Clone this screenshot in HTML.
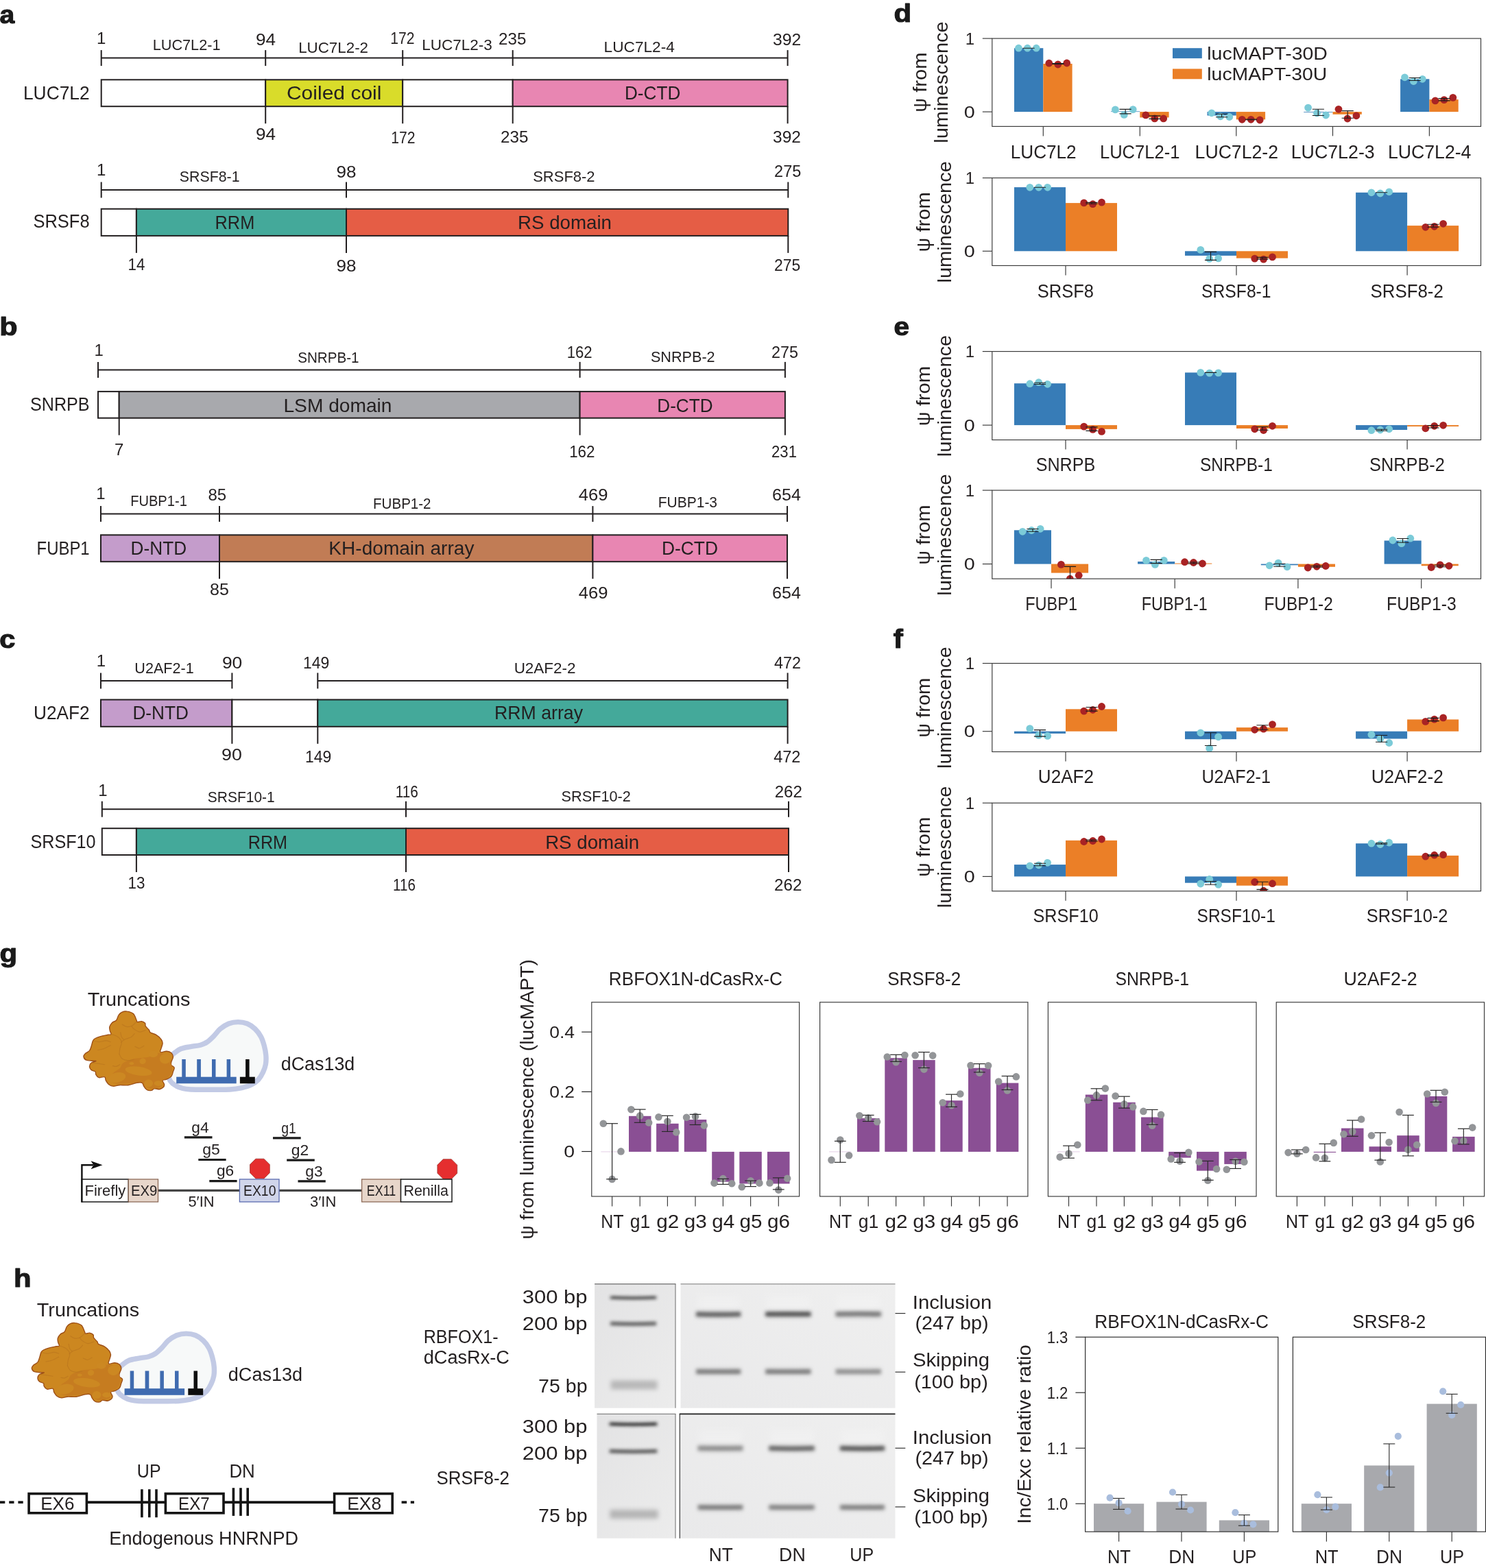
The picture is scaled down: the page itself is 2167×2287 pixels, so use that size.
<!DOCTYPE html>
<html lang="en">
<head>
<meta charset="utf-8">
<title>Figure: truncation mapping of splicing regulators</title>
<style>
html,body{margin:0;padding:0;background:#fff;}
body{width:2167px;height:2287px;overflow:hidden;}
svg{display:block;font-family:"Liberation Sans", sans-serif;fill:#231f20;}
svg text{white-space:pre;}
</style>
</head>
<body>
<svg width="2167" height="2287" viewBox="0 0 2167 2287">
<rect x="0" y="0" width="2167" height="2287" fill="#ffffff"/>
<text x="-0.4" y="33.7" font-size="36.5" textLength="21.7" lengthAdjust="spacingAndGlyphs" font-weight="bold" fill="#1a1a1a" stroke="#1a1a1a" stroke-width="1.1" stroke-linejoin="round">a</text>
<text x="-0.7" y="488.9" font-size="36.5" textLength="26.3" lengthAdjust="spacingAndGlyphs" font-weight="bold" fill="#1a1a1a" stroke="#1a1a1a" stroke-width="1.1" stroke-linejoin="round">b</text>
<text x="-0.7" y="944.8" font-size="36.5" textLength="23.1" lengthAdjust="spacingAndGlyphs" font-weight="bold" fill="#1a1a1a" stroke="#1a1a1a" stroke-width="1.1" stroke-linejoin="round">c</text>
<line x1="147.7" y1="84.6" x2="1148.6" y2="84.6" stroke="#231f20" stroke-width="2.0"/>
<line x1="147.7" y1="73.1" x2="147.7" y2="96.1" stroke="#231f20" stroke-width="2.0"/>
<line x1="387.2" y1="73.1" x2="387.2" y2="96.1" stroke="#231f20" stroke-width="2.0"/>
<line x1="587.2" y1="73.1" x2="587.2" y2="96.1" stroke="#231f20" stroke-width="2.0"/>
<line x1="747.7" y1="73.1" x2="747.7" y2="96.1" stroke="#231f20" stroke-width="2.0"/>
<line x1="1148.6" y1="73.1" x2="1148.6" y2="96.1" stroke="#231f20" stroke-width="2.0"/>
<rect x="147.7" y="116.3" width="239.5" height="38.9" fill="#ffffff" stroke="#231f20" stroke-width="2.0"/>
<rect x="387.2" y="116.3" width="200.0" height="38.9" fill="#d9dc2a" stroke="#231f20" stroke-width="2.0"/>
<rect x="587.2" y="116.3" width="160.5" height="38.9" fill="#ffffff" stroke="#231f20" stroke-width="2.0"/>
<rect x="747.7" y="116.3" width="400.9" height="38.9" fill="#e886b2" stroke="#231f20" stroke-width="2.0"/>
<line x1="387.2" y1="155.2" x2="387.2" y2="180.2" stroke="#231f20" stroke-width="2.0"/>
<line x1="587.2" y1="155.2" x2="587.2" y2="180.2" stroke="#231f20" stroke-width="2.0"/>
<line x1="747.7" y1="155.2" x2="747.7" y2="180.2" stroke="#231f20" stroke-width="2.0"/>
<line x1="1148.6" y1="155.2" x2="1148.6" y2="180.2" stroke="#231f20" stroke-width="2.0"/>
<text x="147.7" y="63.5" font-size="24" text-anchor="middle">1</text>
<text x="387.5" y="65.8" font-size="24" text-anchor="middle" textLength="29.0" lengthAdjust="spacingAndGlyphs">94</text>
<text x="586.8" y="63.5" font-size="24" text-anchor="middle" textLength="35.3" lengthAdjust="spacingAndGlyphs">172</text>
<text x="747.2" y="64.8" font-size="24" text-anchor="middle" textLength="40.3" lengthAdjust="spacingAndGlyphs">235</text>
<text x="1147.7" y="65.5" font-size="24" text-anchor="middle" textLength="41.2" lengthAdjust="spacingAndGlyphs">392</text>
<text x="272.1" y="72.7" font-size="22" text-anchor="middle" textLength="98.8" lengthAdjust="spacingAndGlyphs">LUC7L2-1</text>
<text x="486.1" y="77.4" font-size="22" text-anchor="middle" textLength="101.9" lengthAdjust="spacingAndGlyphs">LUC7L2-2</text>
<text x="666.5" y="72.7" font-size="22" text-anchor="middle" textLength="102.7" lengthAdjust="spacingAndGlyphs">LUC7L2-3</text>
<text x="932.2" y="75.7" font-size="22" text-anchor="middle" textLength="103.2" lengthAdjust="spacingAndGlyphs">LUC7L2-4</text>
<text x="387.5" y="204.0" font-size="24" text-anchor="middle" textLength="29.0" lengthAdjust="spacingAndGlyphs">94</text>
<text x="587.8" y="208.8" font-size="24" text-anchor="middle" textLength="35.3" lengthAdjust="spacingAndGlyphs">172</text>
<text x="750.3" y="208.0" font-size="24" text-anchor="middle" textLength="40.4" lengthAdjust="spacingAndGlyphs">235</text>
<text x="1147.5" y="208.0" font-size="24" text-anchor="middle" textLength="40.8" lengthAdjust="spacingAndGlyphs">392</text>
<text x="487.2" y="144.6" font-size="27.6" text-anchor="middle" textLength="138.5" lengthAdjust="spacingAndGlyphs">Coiled coil</text>
<text x="951.6" y="144.6" font-size="27.6" text-anchor="middle" textLength="81.4" lengthAdjust="spacingAndGlyphs">D-CTD</text>
<text x="82.3" y="144.6" font-size="27.6" text-anchor="middle" textLength="96.7" lengthAdjust="spacingAndGlyphs">LUC7L2</text>
<line x1="147.7" y1="277.0" x2="1149.3" y2="277.0" stroke="#231f20" stroke-width="2.0"/>
<line x1="147.7" y1="265.5" x2="147.7" y2="288.5" stroke="#231f20" stroke-width="2.0"/>
<line x1="505.0" y1="265.5" x2="505.0" y2="288.5" stroke="#231f20" stroke-width="2.0"/>
<line x1="1149.3" y1="265.5" x2="1149.3" y2="288.5" stroke="#231f20" stroke-width="2.0"/>
<rect x="147.7" y="304.7" width="51.2" height="39.2" fill="#ffffff" stroke="#231f20" stroke-width="2.0"/>
<rect x="198.9" y="304.7" width="306.1" height="39.2" fill="#44a99a" stroke="#231f20" stroke-width="2.0"/>
<rect x="505.0" y="304.7" width="644.3" height="39.2" fill="#e55d45" stroke="#231f20" stroke-width="2.0"/>
<line x1="198.9" y1="343.9" x2="198.9" y2="368.9" stroke="#231f20" stroke-width="2.0"/>
<line x1="505.0" y1="343.9" x2="505.0" y2="368.9" stroke="#231f20" stroke-width="2.0"/>
<line x1="1149.3" y1="343.9" x2="1149.3" y2="368.9" stroke="#231f20" stroke-width="2.0"/>
<text x="147.7" y="255.9" font-size="24" text-anchor="middle">1</text>
<text x="505.0" y="258.6" font-size="24" text-anchor="middle" textLength="29.0" lengthAdjust="spacingAndGlyphs">98</text>
<text x="1148.7" y="258.3" font-size="24" text-anchor="middle" textLength="39.2" lengthAdjust="spacingAndGlyphs">275</text>
<text x="305.7" y="265.4" font-size="22" text-anchor="middle" textLength="87.7" lengthAdjust="spacingAndGlyphs">SRSF8-1</text>
<text x="822.4" y="265.4" font-size="22" text-anchor="middle" textLength="90.4" lengthAdjust="spacingAndGlyphs">SRSF8-2</text>
<text x="199.0" y="394.0" font-size="24" text-anchor="middle" textLength="24.9" lengthAdjust="spacingAndGlyphs">14</text>
<text x="505.0" y="396.0" font-size="24" text-anchor="middle" textLength="29.0" lengthAdjust="spacingAndGlyphs">98</text>
<text x="1148.2" y="395.0" font-size="24" text-anchor="middle" textLength="38.2" lengthAdjust="spacingAndGlyphs">275</text>
<text x="342.4" y="334.4" font-size="27.6" text-anchor="middle" textLength="57.7" lengthAdjust="spacingAndGlyphs">RRM</text>
<text x="823.5" y="334.4" font-size="27.6" text-anchor="middle" textLength="137.1" lengthAdjust="spacingAndGlyphs">RS domain</text>
<text x="89.5" y="332.0" font-size="27.6" text-anchor="middle" textLength="82.2" lengthAdjust="spacingAndGlyphs">SRSF8</text>
<line x1="143.0" y1="539.4" x2="1144.9" y2="539.4" stroke="#231f20" stroke-width="2.0"/>
<line x1="143.0" y1="527.9" x2="143.0" y2="550.9" stroke="#231f20" stroke-width="2.0"/>
<line x1="845.6" y1="527.9" x2="845.6" y2="550.9" stroke="#231f20" stroke-width="2.0"/>
<line x1="1144.9" y1="527.9" x2="1144.9" y2="550.9" stroke="#231f20" stroke-width="2.0"/>
<rect x="143.0" y="571.1" width="30.7" height="38.6" fill="#ffffff" stroke="#231f20" stroke-width="2.0"/>
<rect x="173.7" y="571.1" width="671.9" height="38.6" fill="#a8a9ad" stroke="#231f20" stroke-width="2.0"/>
<rect x="845.6" y="571.1" width="299.3" height="38.6" fill="#e886b2" stroke="#231f20" stroke-width="2.0"/>
<line x1="173.7" y1="609.7" x2="173.7" y2="634.7" stroke="#231f20" stroke-width="2.0"/>
<line x1="845.6" y1="609.7" x2="845.6" y2="634.7" stroke="#231f20" stroke-width="2.0"/>
<line x1="1144.9" y1="609.7" x2="1144.9" y2="634.7" stroke="#231f20" stroke-width="2.0"/>
<text x="144.3" y="519.0" font-size="24" text-anchor="middle">1</text>
<text x="845.2" y="521.6" font-size="24" text-anchor="middle" textLength="36.9" lengthAdjust="spacingAndGlyphs">162</text>
<text x="1144.4" y="521.6" font-size="24" text-anchor="middle" textLength="39.0" lengthAdjust="spacingAndGlyphs">275</text>
<text x="478.9" y="528.5" font-size="22" text-anchor="middle" textLength="89.4" lengthAdjust="spacingAndGlyphs">SNRPB-1</text>
<text x="995.8" y="527.8" font-size="22" text-anchor="middle" textLength="93.7" lengthAdjust="spacingAndGlyphs">SNRPB-2</text>
<text x="173.7" y="664.0" font-size="24" text-anchor="middle">7</text>
<text x="848.8" y="666.6" font-size="24" text-anchor="middle" textLength="37.3" lengthAdjust="spacingAndGlyphs">162</text>
<text x="1143.5" y="666.6" font-size="24" text-anchor="middle" textLength="36.8" lengthAdjust="spacingAndGlyphs">231</text>
<text x="492.5" y="601.0" font-size="27.6" text-anchor="middle" textLength="158.1" lengthAdjust="spacingAndGlyphs">LSM domain</text>
<text x="998.9" y="601.0" font-size="27.6" text-anchor="middle" textLength="81.2" lengthAdjust="spacingAndGlyphs">D-CTD</text>
<text x="87.3" y="599.0" font-size="27.6" text-anchor="middle" textLength="86.7" lengthAdjust="spacingAndGlyphs">SNRPB</text>
<line x1="147.0" y1="749.6" x2="1148.0" y2="749.6" stroke="#231f20" stroke-width="2.0"/>
<line x1="147.0" y1="738.1" x2="147.0" y2="761.1" stroke="#231f20" stroke-width="2.0"/>
<line x1="320.0" y1="738.1" x2="320.0" y2="761.1" stroke="#231f20" stroke-width="2.0"/>
<line x1="864.4" y1="738.1" x2="864.4" y2="761.1" stroke="#231f20" stroke-width="2.0"/>
<line x1="1148.0" y1="738.1" x2="1148.0" y2="761.1" stroke="#231f20" stroke-width="2.0"/>
<rect x="147.0" y="780.3" width="173.0" height="38.9" fill="#c49ccb" stroke="#231f20" stroke-width="2.0"/>
<rect x="320.0" y="780.3" width="544.4" height="38.9" fill="#c17c55" stroke="#231f20" stroke-width="2.0"/>
<rect x="864.4" y="780.3" width="283.6" height="38.9" fill="#e886b2" stroke="#231f20" stroke-width="2.0"/>
<line x1="320.0" y1="819.2" x2="320.0" y2="844.2" stroke="#231f20" stroke-width="2.0"/>
<line x1="864.4" y1="819.2" x2="864.4" y2="844.2" stroke="#231f20" stroke-width="2.0"/>
<line x1="1148.0" y1="819.2" x2="1148.0" y2="844.2" stroke="#231f20" stroke-width="2.0"/>
<text x="147.0" y="728.0" font-size="24" text-anchor="middle">1</text>
<text x="316.8" y="730.4" font-size="24" text-anchor="middle" textLength="26.7" lengthAdjust="spacingAndGlyphs">85</text>
<text x="865.1" y="729.8" font-size="24" text-anchor="middle" textLength="42.8" lengthAdjust="spacingAndGlyphs">469</text>
<text x="1147.0" y="730.4" font-size="24" text-anchor="middle" textLength="41.8" lengthAdjust="spacingAndGlyphs">654</text>
<text x="231.5" y="737.6" font-size="22" text-anchor="middle" textLength="82.7" lengthAdjust="spacingAndGlyphs">FUBP1-1</text>
<text x="586.3" y="741.7" font-size="22" text-anchor="middle" textLength="84.5" lengthAdjust="spacingAndGlyphs">FUBP1-2</text>
<text x="1002.9" y="740.0" font-size="22" text-anchor="middle" textLength="86.3" lengthAdjust="spacingAndGlyphs">FUBP1-3</text>
<text x="320.0" y="868.3" font-size="24" text-anchor="middle" textLength="27.8" lengthAdjust="spacingAndGlyphs">85</text>
<text x="865.1" y="873.0" font-size="24" text-anchor="middle" textLength="42.8" lengthAdjust="spacingAndGlyphs">469</text>
<text x="1147.0" y="873.0" font-size="24" text-anchor="middle" textLength="41.8" lengthAdjust="spacingAndGlyphs">654</text>
<text x="231.4" y="809.0" font-size="27.6" text-anchor="middle" textLength="81.6" lengthAdjust="spacingAndGlyphs">D-NTD</text>
<text x="585.4" y="809.0" font-size="27.6" text-anchor="middle" textLength="212.1" lengthAdjust="spacingAndGlyphs">KH-domain array</text>
<text x="1006.0" y="809.0" font-size="27.6" text-anchor="middle" textLength="82.1" lengthAdjust="spacingAndGlyphs">D-CTD</text>
<text x="92.1" y="809.0" font-size="27.6" text-anchor="middle" textLength="77.1" lengthAdjust="spacingAndGlyphs">FUBP1</text>
<line x1="147.0" y1="992.9" x2="338.4" y2="992.9" stroke="#231f20" stroke-width="2.0"/>
<line x1="463.3" y1="992.9" x2="1148.6" y2="992.9" stroke="#231f20" stroke-width="2.0"/>
<line x1="147.0" y1="981.4" x2="147.0" y2="1004.4" stroke="#231f20" stroke-width="2.0"/>
<line x1="338.4" y1="981.4" x2="338.4" y2="1004.4" stroke="#231f20" stroke-width="2.0"/>
<line x1="463.3" y1="981.4" x2="463.3" y2="1004.4" stroke="#231f20" stroke-width="2.0"/>
<line x1="1148.6" y1="981.4" x2="1148.6" y2="1004.4" stroke="#231f20" stroke-width="2.0"/>
<rect x="147.0" y="1020.5" width="191.4" height="39.3" fill="#c49ccb" stroke="#231f20" stroke-width="2.0"/>
<rect x="338.4" y="1020.5" width="124.9" height="39.3" fill="#ffffff" stroke="#231f20" stroke-width="2.0"/>
<rect x="463.3" y="1020.5" width="685.3" height="39.3" fill="#44a99a" stroke="#231f20" stroke-width="2.0"/>
<line x1="338.4" y1="1059.8" x2="338.4" y2="1084.8" stroke="#231f20" stroke-width="2.0"/>
<line x1="463.3" y1="1059.8" x2="463.3" y2="1084.8" stroke="#231f20" stroke-width="2.0"/>
<line x1="1148.6" y1="1059.8" x2="1148.6" y2="1084.8" stroke="#231f20" stroke-width="2.0"/>
<text x="147.5" y="972.4" font-size="24" text-anchor="middle">1</text>
<text x="338.6" y="974.8" font-size="24" text-anchor="middle" textLength="29.4" lengthAdjust="spacingAndGlyphs">90</text>
<text x="461.1" y="974.8" font-size="24" text-anchor="middle" textLength="38.3" lengthAdjust="spacingAndGlyphs">149</text>
<text x="1148.4" y="974.8" font-size="24" text-anchor="middle" textLength="39.0" lengthAdjust="spacingAndGlyphs">472</text>
<text x="239.5" y="982.3" font-size="22" text-anchor="middle" textLength="86.3" lengthAdjust="spacingAndGlyphs">U2AF2-1</text>
<text x="794.6" y="981.6" font-size="22" text-anchor="middle" textLength="89.9" lengthAdjust="spacingAndGlyphs">U2AF2-2</text>
<text x="338.0" y="1109.0" font-size="24" text-anchor="middle" textLength="29.8" lengthAdjust="spacingAndGlyphs">90</text>
<text x="464.2" y="1112.0" font-size="24" text-anchor="middle" textLength="38.3" lengthAdjust="spacingAndGlyphs">149</text>
<text x="1147.8" y="1112.0" font-size="24" text-anchor="middle" textLength="39.3" lengthAdjust="spacingAndGlyphs">472</text>
<text x="234.2" y="1048.9" font-size="27.6" text-anchor="middle" textLength="81.6" lengthAdjust="spacingAndGlyphs">D-NTD</text>
<text x="785.5" y="1048.9" font-size="27.6" text-anchor="middle" textLength="129.1" lengthAdjust="spacingAndGlyphs">RRM array</text>
<text x="89.8" y="1048.9" font-size="27.6" text-anchor="middle" textLength="81.7" lengthAdjust="spacingAndGlyphs">U2AF2</text>
<line x1="148.8" y1="1180.2" x2="1150.0" y2="1180.2" stroke="#231f20" stroke-width="2.0"/>
<line x1="148.8" y1="1168.7" x2="148.8" y2="1191.7" stroke="#231f20" stroke-width="2.0"/>
<line x1="592.0" y1="1168.7" x2="592.0" y2="1191.7" stroke="#231f20" stroke-width="2.0"/>
<line x1="1150.0" y1="1168.7" x2="1150.0" y2="1191.7" stroke="#231f20" stroke-width="2.0"/>
<rect x="148.8" y="1208.2" width="50.1" height="38.8" fill="#ffffff" stroke="#231f20" stroke-width="2.0"/>
<rect x="198.9" y="1208.2" width="393.1" height="38.8" fill="#44a99a" stroke="#231f20" stroke-width="2.0"/>
<rect x="592.0" y="1208.2" width="558.0" height="38.8" fill="#e55d45" stroke="#231f20" stroke-width="2.0"/>
<line x1="198.9" y1="1247.0" x2="198.9" y2="1272.0" stroke="#231f20" stroke-width="2.0"/>
<line x1="592.0" y1="1247.0" x2="592.0" y2="1272.0" stroke="#231f20" stroke-width="2.0"/>
<line x1="1150.0" y1="1247.0" x2="1150.0" y2="1272.0" stroke="#231f20" stroke-width="2.0"/>
<text x="150.0" y="1160.8" font-size="24" text-anchor="middle">1</text>
<text x="593.3" y="1162.5" font-size="24" text-anchor="middle" textLength="33.2" lengthAdjust="spacingAndGlyphs">116</text>
<text x="1149.8" y="1162.5" font-size="24" text-anchor="middle" textLength="40.3" lengthAdjust="spacingAndGlyphs">262</text>
<text x="351.8" y="1170.0" font-size="22" text-anchor="middle" textLength="97.9" lengthAdjust="spacingAndGlyphs">SRSF10-1</text>
<text x="869.2" y="1169.3" font-size="22" text-anchor="middle" textLength="101.3" lengthAdjust="spacingAndGlyphs">SRSF10-2</text>
<text x="199.0" y="1295.5" font-size="24" text-anchor="middle" textLength="24.9" lengthAdjust="spacingAndGlyphs">13</text>
<text x="589.5" y="1299.0" font-size="24" text-anchor="middle" textLength="32.8" lengthAdjust="spacingAndGlyphs">116</text>
<text x="1149.2" y="1299.0" font-size="24" text-anchor="middle" textLength="40.3" lengthAdjust="spacingAndGlyphs">262</text>
<text x="390.4" y="1238.2" font-size="27.6" text-anchor="middle" textLength="57.4" lengthAdjust="spacingAndGlyphs">RRM</text>
<text x="863.6" y="1238.2" font-size="27.6" text-anchor="middle" textLength="136.9" lengthAdjust="spacingAndGlyphs">RS domain</text>
<text x="92.0" y="1236.8" font-size="27.6" text-anchor="middle" textLength="95.2" lengthAdjust="spacingAndGlyphs">SRSF10</text>
<text x="1303.5" y="32.3" font-size="36.5" textLength="25.6" lengthAdjust="spacingAndGlyphs" font-weight="bold" fill="#1a1a1a" stroke="#1a1a1a" stroke-width="1.1" stroke-linejoin="round">d</text>
<text x="1303.5" y="489.3" font-size="36.5" textLength="22.5" lengthAdjust="spacingAndGlyphs" font-weight="bold" fill="#1a1a1a" stroke="#1a1a1a" stroke-width="1.1" stroke-linejoin="round">e</text>
<text x="1302.8" y="944.7" font-size="38.5" textLength="14.1" lengthAdjust="spacingAndGlyphs" font-weight="bold" fill="#1a1a1a" stroke="#1a1a1a" stroke-width="1.1" stroke-linejoin="round">f</text>
<clipPath id="ax1"><rect x="1446.8" y="56.1" width="712.7" height="128.3"/></clipPath>
<g clip-path="url(#ax1)">
<rect x="1479.0" y="70.2" width="42.3" height="92.9" fill="#377cb7"/>
<rect x="1521.3" y="93.0" width="42.3" height="70.1" fill="#eb7f27"/>
<rect x="1620.0" y="162.4" width="42.3" height="0.7" fill="#377cb7"/>
<rect x="1662.3" y="163.1" width="42.3" height="8.3" fill="#eb7f27"/>
<rect x="1760.5" y="163.1" width="42.3" height="5.4" fill="#377cb7"/>
<rect x="1802.8" y="163.1" width="42.3" height="11.2" fill="#eb7f27"/>
<rect x="1901.2" y="163.1" width="42.3" height="0.8" fill="#377cb7"/>
<rect x="1943.5" y="163.1" width="42.3" height="3.7" fill="#eb7f27"/>
<rect x="2042.1" y="115.3" width="42.3" height="47.8" fill="#377cb7"/>
<rect x="2084.4" y="145.1" width="42.3" height="18.0" fill="#eb7f27"/>
<circle cx="1485.4" cy="70.2" r="5.4" fill="#7ccbd8"/>
<circle cx="1498.3" cy="70.2" r="5.4" fill="#7ccbd8"/>
<circle cx="1511.2" cy="70.2" r="5.4" fill="#7ccbd8"/>
<line x1="1491.5" y1="70.2" x2="1508.7" y2="70.2" stroke="#1c1c1c" stroke-width="1.1"/>
<circle cx="1529.8" cy="92.2" r="5.4" fill="#a92324"/>
<circle cx="1542.8" cy="94.0" r="5.4" fill="#a92324"/>
<circle cx="1555.7" cy="92.0" r="5.4" fill="#a92324"/>
<line x1="1534.4" y1="92.6" x2="1551.5" y2="92.6" stroke="#1c1c1c" stroke-width="1.1"/>
<line x1="1534.4" y1="93.4" x2="1551.5" y2="93.4" stroke="#1c1c1c" stroke-width="1.1"/>
<line x1="1543.0" y1="92.6" x2="1543.0" y2="93.4" stroke="#1c1c1c" stroke-width="1.1"/>
<circle cx="1626.4" cy="159.9" r="5.4" fill="#7ccbd8"/>
<circle cx="1639.3" cy="167.4" r="5.4" fill="#7ccbd8"/>
<circle cx="1652.2" cy="159.6" r="5.4" fill="#7ccbd8"/>
<line x1="1632.5" y1="159.4" x2="1649.7" y2="159.4" stroke="#1c1c1c" stroke-width="1.1"/>
<line x1="1632.5" y1="165.9" x2="1649.7" y2="165.9" stroke="#1c1c1c" stroke-width="1.1"/>
<line x1="1641.1" y1="159.4" x2="1641.1" y2="165.9" stroke="#1c1c1c" stroke-width="1.1"/>
<circle cx="1670.8" cy="167.9" r="5.4" fill="#a92324"/>
<circle cx="1683.8" cy="172.9" r="5.4" fill="#a92324"/>
<circle cx="1696.7" cy="172.9" r="5.4" fill="#a92324"/>
<line x1="1675.4" y1="168.9" x2="1692.5" y2="168.9" stroke="#1c1c1c" stroke-width="1.1"/>
<line x1="1675.4" y1="173.4" x2="1692.5" y2="173.4" stroke="#1c1c1c" stroke-width="1.1"/>
<line x1="1684.0" y1="168.9" x2="1684.0" y2="173.4" stroke="#1c1c1c" stroke-width="1.1"/>
<circle cx="1766.9" cy="164.8" r="5.4" fill="#7ccbd8"/>
<circle cx="1779.8" cy="169.8" r="5.4" fill="#7ccbd8"/>
<circle cx="1792.8" cy="170.5" r="5.4" fill="#7ccbd8"/>
<line x1="1773.0" y1="166.3" x2="1790.2" y2="166.3" stroke="#1c1c1c" stroke-width="1.1"/>
<line x1="1773.0" y1="170.8" x2="1790.2" y2="170.8" stroke="#1c1c1c" stroke-width="1.1"/>
<line x1="1781.6" y1="166.3" x2="1781.6" y2="170.8" stroke="#1c1c1c" stroke-width="1.1"/>
<circle cx="1811.3" cy="174.3" r="5.4" fill="#a92324"/>
<circle cx="1824.2" cy="174.3" r="5.4" fill="#a92324"/>
<circle cx="1837.2" cy="175.0" r="5.4" fill="#a92324"/>
<line x1="1815.9" y1="174.0" x2="1833.0" y2="174.0" stroke="#1c1c1c" stroke-width="1.1"/>
<line x1="1815.9" y1="174.8" x2="1833.0" y2="174.8" stroke="#1c1c1c" stroke-width="1.1"/>
<line x1="1824.5" y1="174.0" x2="1824.5" y2="174.8" stroke="#1c1c1c" stroke-width="1.1"/>
<circle cx="1907.6" cy="157.1" r="5.4" fill="#7ccbd8"/>
<circle cx="1920.5" cy="165.0" r="5.4" fill="#7ccbd8"/>
<circle cx="1933.5" cy="168.0" r="5.4" fill="#7ccbd8"/>
<line x1="1913.8" y1="159.3" x2="1930.9" y2="159.3" stroke="#1c1c1c" stroke-width="1.1"/>
<line x1="1913.8" y1="168.5" x2="1930.9" y2="168.5" stroke="#1c1c1c" stroke-width="1.1"/>
<line x1="1922.3" y1="159.3" x2="1922.3" y2="168.5" stroke="#1c1c1c" stroke-width="1.1"/>
<circle cx="1952.0" cy="159.3" r="5.4" fill="#a92324"/>
<circle cx="1965.0" cy="173.0" r="5.4" fill="#a92324"/>
<circle cx="1977.9" cy="168.8" r="5.4" fill="#a92324"/>
<line x1="1956.6" y1="161.6" x2="1973.8" y2="161.6" stroke="#1c1c1c" stroke-width="1.1"/>
<line x1="1956.6" y1="172.3" x2="1973.8" y2="172.3" stroke="#1c1c1c" stroke-width="1.1"/>
<line x1="1965.2" y1="161.6" x2="1965.2" y2="172.3" stroke="#1c1c1c" stroke-width="1.1"/>
<circle cx="2048.5" cy="112.8" r="5.4" fill="#7ccbd8"/>
<circle cx="2061.4" cy="118.5" r="5.4" fill="#7ccbd8"/>
<circle cx="2074.3" cy="115.3" r="5.4" fill="#7ccbd8"/>
<line x1="2054.7" y1="113.5" x2="2071.8" y2="113.5" stroke="#1c1c1c" stroke-width="1.1"/>
<line x1="2054.7" y1="117.5" x2="2071.8" y2="117.5" stroke="#1c1c1c" stroke-width="1.1"/>
<line x1="2063.2" y1="113.5" x2="2063.2" y2="117.5" stroke="#1c1c1c" stroke-width="1.1"/>
<circle cx="2093.0" cy="146.9" r="5.4" fill="#a92324"/>
<circle cx="2105.9" cy="145.6" r="5.4" fill="#a92324"/>
<circle cx="2118.8" cy="142.4" r="5.4" fill="#a92324"/>
<line x1="2097.5" y1="143.6" x2="2114.7" y2="143.6" stroke="#1c1c1c" stroke-width="1.1"/>
<line x1="2097.5" y1="146.9" x2="2114.7" y2="146.9" stroke="#1c1c1c" stroke-width="1.1"/>
<line x1="2106.1" y1="143.6" x2="2106.1" y2="146.9" stroke="#1c1c1c" stroke-width="1.1"/>
</g>
<rect x="1446.8" y="56.1" width="712.7" height="128.3" fill="none" stroke="#383838" stroke-width="1.15"/>
<line x1="1432.8" y1="56.1" x2="1446.8" y2="56.1" stroke="#383838" stroke-width="1.15"/>
<text x="1421.0" y="64.6" font-size="24" text-anchor="end">1</text>
<line x1="1432.8" y1="163.1" x2="1446.8" y2="163.1" stroke="#383838" stroke-width="1.15"/>
<text x="1421.8" y="171.6" font-size="24" text-anchor="end" textLength="16.0" lengthAdjust="spacingAndGlyphs">0</text>
<line x1="1521.3" y1="184.4" x2="1521.3" y2="198.4" stroke="#383838" stroke-width="1.15"/>
<text x="1521.7" y="231.2" font-size="27" text-anchor="middle" textLength="95.9" lengthAdjust="spacingAndGlyphs">LUC7L2</text>
<line x1="1662.3" y1="184.4" x2="1662.3" y2="198.4" stroke="#383838" stroke-width="1.15"/>
<text x="1662.2" y="231.2" font-size="27" text-anchor="middle" textLength="116.5" lengthAdjust="spacingAndGlyphs">LUC7L2-1</text>
<line x1="1802.8" y1="184.4" x2="1802.8" y2="198.4" stroke="#383838" stroke-width="1.15"/>
<text x="1803.3" y="231.2" font-size="27" text-anchor="middle" textLength="121.4" lengthAdjust="spacingAndGlyphs">LUC7L2-2</text>
<line x1="1943.5" y1="184.4" x2="1943.5" y2="198.4" stroke="#383838" stroke-width="1.15"/>
<text x="1943.7" y="231.2" font-size="27" text-anchor="middle" textLength="122.0" lengthAdjust="spacingAndGlyphs">LUC7L2-3</text>
<line x1="2084.4" y1="184.4" x2="2084.4" y2="198.4" stroke="#383838" stroke-width="1.15"/>
<text x="2084.7" y="231.2" font-size="27" text-anchor="middle" textLength="121.5" lengthAdjust="spacingAndGlyphs">LUC7L2-4</text>
<text x="1351.0" y="120.0" font-size="27" text-anchor="middle" textLength="87.3" lengthAdjust="spacingAndGlyphs" transform="rotate(-90 1351.0 120.0)">ψ from</text>
<text x="1382.4" y="120.0" font-size="27" text-anchor="middle" textLength="177.5" lengthAdjust="spacingAndGlyphs" transform="rotate(-90 1382.4 120.0)">luminescence</text>
<rect x="1710.0" y="70.2" width="42.8" height="14.9" fill="#377cb7"/>
<rect x="1710.0" y="100.4" width="42.8" height="14.9" fill="#eb7f27"/>
<text x="1760.3" y="87.0" font-size="26.5" textLength="175.6" lengthAdjust="spacingAndGlyphs">lucMAPT-30D</text>
<text x="1760.3" y="117.0" font-size="26.5" textLength="175.0" lengthAdjust="spacingAndGlyphs">lucMAPT-30U</text>
<clipPath id="ax2"><rect x="1446.8" y="259.5" width="712.7" height="127.9"/></clipPath>
<g clip-path="url(#ax2)">
<rect x="1479.0" y="273.1" width="75.0" height="93.2" fill="#377cb7"/>
<rect x="1554.0" y="296.1" width="75.0" height="70.2" fill="#eb7f27"/>
<rect x="1728.0" y="366.3" width="75.0" height="6.6" fill="#377cb7"/>
<rect x="1803.0" y="366.3" width="75.0" height="10.3" fill="#eb7f27"/>
<rect x="1977.1" y="280.8" width="75.0" height="85.5" fill="#377cb7"/>
<rect x="2052.1" y="329.1" width="75.0" height="37.2" fill="#eb7f27"/>
<circle cx="1501.8" cy="273.3" r="5.4" fill="#7ccbd8"/>
<circle cx="1514.7" cy="273.3" r="5.4" fill="#7ccbd8"/>
<circle cx="1527.6" cy="273.3" r="5.4" fill="#7ccbd8"/>
<line x1="1507.9" y1="273.3" x2="1525.1" y2="273.3" stroke="#1c1c1c" stroke-width="1.1"/>
<circle cx="1580.7" cy="295.9" r="5.4" fill="#a92324"/>
<circle cx="1593.6" cy="297.7" r="5.4" fill="#a92324"/>
<circle cx="1606.5" cy="295.1" r="5.4" fill="#a92324"/>
<line x1="1583.4" y1="295.4" x2="1600.6" y2="295.4" stroke="#1c1c1c" stroke-width="1.1"/>
<line x1="1583.4" y1="297.2" x2="1600.6" y2="297.2" stroke="#1c1c1c" stroke-width="1.1"/>
<line x1="1592.0" y1="295.4" x2="1592.0" y2="297.2" stroke="#1c1c1c" stroke-width="1.1"/>
<circle cx="1750.8" cy="364.4" r="5.4" fill="#7ccbd8"/>
<circle cx="1763.7" cy="377.4" r="5.4" fill="#7ccbd8"/>
<circle cx="1776.6" cy="376.9" r="5.4" fill="#7ccbd8"/>
<line x1="1756.9" y1="367.4" x2="1774.1" y2="367.4" stroke="#1c1c1c" stroke-width="1.1"/>
<line x1="1756.9" y1="379.4" x2="1774.1" y2="379.4" stroke="#1c1c1c" stroke-width="1.1"/>
<line x1="1765.5" y1="367.4" x2="1765.5" y2="379.4" stroke="#1c1c1c" stroke-width="1.1"/>
<circle cx="1829.7" cy="377.1" r="5.4" fill="#a92324"/>
<circle cx="1842.6" cy="378.1" r="5.4" fill="#a92324"/>
<circle cx="1855.5" cy="374.9" r="5.4" fill="#a92324"/>
<line x1="1832.4" y1="375.4" x2="1849.6" y2="375.4" stroke="#1c1c1c" stroke-width="1.1"/>
<line x1="1832.4" y1="377.9" x2="1849.6" y2="377.9" stroke="#1c1c1c" stroke-width="1.1"/>
<line x1="1841.0" y1="375.4" x2="1841.0" y2="377.9" stroke="#1c1c1c" stroke-width="1.1"/>
<circle cx="1999.9" cy="280.8" r="5.4" fill="#7ccbd8"/>
<circle cx="2012.8" cy="282.0" r="5.4" fill="#7ccbd8"/>
<circle cx="2025.7" cy="279.8" r="5.4" fill="#7ccbd8"/>
<line x1="2006.0" y1="280.8" x2="2023.2" y2="280.8" stroke="#1c1c1c" stroke-width="1.1"/>
<circle cx="2078.8" cy="331.3" r="5.4" fill="#a92324"/>
<circle cx="2091.7" cy="330.3" r="5.4" fill="#a92324"/>
<circle cx="2104.6" cy="326.3" r="5.4" fill="#a92324"/>
<line x1="2081.5" y1="327.3" x2="2098.7" y2="327.3" stroke="#1c1c1c" stroke-width="1.1"/>
<line x1="2081.5" y1="331.3" x2="2098.7" y2="331.3" stroke="#1c1c1c" stroke-width="1.1"/>
<line x1="2090.1" y1="327.3" x2="2090.1" y2="331.3" stroke="#1c1c1c" stroke-width="1.1"/>
</g>
<rect x="1446.8" y="259.5" width="712.7" height="127.9" fill="none" stroke="#383838" stroke-width="1.15"/>
<line x1="1432.8" y1="259.5" x2="1446.8" y2="259.5" stroke="#383838" stroke-width="1.15"/>
<text x="1421.0" y="268.0" font-size="24" text-anchor="end">1</text>
<line x1="1432.8" y1="366.3" x2="1446.8" y2="366.3" stroke="#383838" stroke-width="1.15"/>
<text x="1421.8" y="374.8" font-size="24" text-anchor="end" textLength="16.0" lengthAdjust="spacingAndGlyphs">0</text>
<line x1="1554.0" y1="387.4" x2="1554.0" y2="401.4" stroke="#383838" stroke-width="1.15"/>
<text x="1553.9" y="434.2" font-size="27" text-anchor="middle" textLength="82.2" lengthAdjust="spacingAndGlyphs">SRSF8</text>
<line x1="1803.0" y1="387.4" x2="1803.0" y2="401.4" stroke="#383838" stroke-width="1.15"/>
<text x="1802.8" y="434.2" font-size="27" text-anchor="middle" textLength="101.6" lengthAdjust="spacingAndGlyphs">SRSF8-1</text>
<line x1="2052.1" y1="387.4" x2="2052.1" y2="401.4" stroke="#383838" stroke-width="1.15"/>
<text x="2051.7" y="434.2" font-size="27" text-anchor="middle" textLength="106.3" lengthAdjust="spacingAndGlyphs">SRSF8-2</text>
<text x="1355.6" y="323.8" font-size="27" text-anchor="middle" textLength="87.3" lengthAdjust="spacingAndGlyphs" transform="rotate(-90 1355.6 323.8)">ψ from</text>
<text x="1387.2" y="323.8" font-size="27" text-anchor="middle" textLength="177.5" lengthAdjust="spacingAndGlyphs" transform="rotate(-90 1387.2 323.8)">luminescence</text>
<clipPath id="ax3"><rect x="1446.8" y="512.6" width="712.7" height="129.0"/></clipPath>
<g clip-path="url(#ax3)">
<rect x="1479.0" y="559.2" width="75.0" height="60.9" fill="#377cb7"/>
<rect x="1554.0" y="620.1" width="75.0" height="5.8" fill="#eb7f27"/>
<rect x="1728.0" y="543.4" width="75.0" height="76.7" fill="#377cb7"/>
<rect x="1803.0" y="620.1" width="75.0" height="4.9" fill="#eb7f27"/>
<rect x="1977.1" y="620.1" width="75.0" height="6.9" fill="#377cb7"/>
<rect x="2052.1" y="620.1" width="75.0" height="1.9" fill="#eb7f27"/>
<circle cx="1501.8" cy="559.7" r="5.4" fill="#7ccbd8"/>
<circle cx="1514.7" cy="557.7" r="5.4" fill="#7ccbd8"/>
<circle cx="1527.6" cy="560.3" r="5.4" fill="#7ccbd8"/>
<line x1="1507.9" y1="558.2" x2="1525.1" y2="558.2" stroke="#1c1c1c" stroke-width="1.1"/>
<line x1="1507.9" y1="560.5" x2="1525.1" y2="560.5" stroke="#1c1c1c" stroke-width="1.1"/>
<line x1="1516.5" y1="558.2" x2="1516.5" y2="560.5" stroke="#1c1c1c" stroke-width="1.1"/>
<circle cx="1580.7" cy="622.1" r="5.4" fill="#a92324"/>
<circle cx="1593.6" cy="626.4" r="5.4" fill="#a92324"/>
<circle cx="1606.5" cy="629.4" r="5.4" fill="#a92324"/>
<line x1="1583.4" y1="622.9" x2="1600.6" y2="622.9" stroke="#1c1c1c" stroke-width="1.1"/>
<line x1="1583.4" y1="628.4" x2="1600.6" y2="628.4" stroke="#1c1c1c" stroke-width="1.1"/>
<line x1="1592.0" y1="622.9" x2="1592.0" y2="628.4" stroke="#1c1c1c" stroke-width="1.1"/>
<circle cx="1750.8" cy="543.4" r="5.4" fill="#7ccbd8"/>
<circle cx="1763.7" cy="544.1" r="5.4" fill="#7ccbd8"/>
<circle cx="1776.6" cy="543.9" r="5.4" fill="#7ccbd8"/>
<line x1="1756.9" y1="543.4" x2="1774.1" y2="543.4" stroke="#1c1c1c" stroke-width="1.1"/>
<circle cx="1829.7" cy="625.8" r="5.4" fill="#a92324"/>
<circle cx="1842.6" cy="627.5" r="5.4" fill="#a92324"/>
<circle cx="1855.5" cy="621.3" r="5.4" fill="#a92324"/>
<line x1="1832.4" y1="622.5" x2="1849.6" y2="622.5" stroke="#1c1c1c" stroke-width="1.1"/>
<line x1="1832.4" y1="627.2" x2="1849.6" y2="627.2" stroke="#1c1c1c" stroke-width="1.1"/>
<line x1="1841.0" y1="622.5" x2="1841.0" y2="627.2" stroke="#1c1c1c" stroke-width="1.1"/>
<circle cx="1999.9" cy="627.7" r="5.4" fill="#7ccbd8"/>
<circle cx="2012.8" cy="627.0" r="5.4" fill="#7ccbd8"/>
<circle cx="2025.7" cy="625.8" r="5.4" fill="#7ccbd8"/>
<line x1="2006.0" y1="626.3" x2="2023.2" y2="626.3" stroke="#1c1c1c" stroke-width="1.1"/>
<line x1="2006.0" y1="628.2" x2="2023.2" y2="628.2" stroke="#1c1c1c" stroke-width="1.1"/>
<line x1="2014.6" y1="626.3" x2="2014.6" y2="628.2" stroke="#1c1c1c" stroke-width="1.1"/>
<circle cx="2078.8" cy="624.8" r="5.4" fill="#a92324"/>
<circle cx="2091.7" cy="621.3" r="5.4" fill="#a92324"/>
<circle cx="2104.6" cy="620.3" r="5.4" fill="#a92324"/>
<line x1="2081.5" y1="620.5" x2="2098.7" y2="620.5" stroke="#1c1c1c" stroke-width="1.1"/>
<line x1="2081.5" y1="624.0" x2="2098.7" y2="624.0" stroke="#1c1c1c" stroke-width="1.1"/>
<line x1="2090.1" y1="620.5" x2="2090.1" y2="624.0" stroke="#1c1c1c" stroke-width="1.1"/>
</g>
<rect x="1446.8" y="512.6" width="712.7" height="129.0" fill="none" stroke="#383838" stroke-width="1.15"/>
<line x1="1432.8" y1="512.6" x2="1446.8" y2="512.6" stroke="#383838" stroke-width="1.15"/>
<text x="1421.0" y="521.1" font-size="24" text-anchor="end">1</text>
<line x1="1432.8" y1="620.1" x2="1446.8" y2="620.1" stroke="#383838" stroke-width="1.15"/>
<text x="1421.8" y="628.6" font-size="24" text-anchor="end" textLength="16.0" lengthAdjust="spacingAndGlyphs">0</text>
<line x1="1554.0" y1="641.6" x2="1554.0" y2="655.6" stroke="#383838" stroke-width="1.15"/>
<text x="1554.0" y="686.7" font-size="27" text-anchor="middle" textLength="86.5" lengthAdjust="spacingAndGlyphs">SNRPB</text>
<line x1="1803.0" y1="641.6" x2="1803.0" y2="655.6" stroke="#383838" stroke-width="1.15"/>
<text x="1802.9" y="686.7" font-size="27" text-anchor="middle" textLength="105.8" lengthAdjust="spacingAndGlyphs">SNRPB-1</text>
<line x1="2052.1" y1="641.6" x2="2052.1" y2="655.6" stroke="#383838" stroke-width="1.15"/>
<text x="2051.9" y="686.7" font-size="27" text-anchor="middle" textLength="109.8" lengthAdjust="spacingAndGlyphs">SNRPB-2</text>
<text x="1355.6" y="577.5" font-size="27" text-anchor="middle" textLength="87.3" lengthAdjust="spacingAndGlyphs" transform="rotate(-90 1355.6 577.5)">ψ from</text>
<text x="1387.2" y="577.5" font-size="27" text-anchor="middle" textLength="177.5" lengthAdjust="spacingAndGlyphs" transform="rotate(-90 1387.2 577.5)">luminescence</text>
<clipPath id="ax4"><rect x="1446.8" y="715.1" width="712.7" height="129.1"/></clipPath>
<g clip-path="url(#ax4)">
<rect x="1478.9" y="773.3" width="54.1" height="49.3" fill="#377cb7"/>
<rect x="1533.0" y="822.6" width="54.1" height="13.0" fill="#eb7f27"/>
<rect x="1659.1" y="819.1" width="54.1" height="3.5" fill="#377cb7"/>
<rect x="1713.2" y="821.6" width="54.1" height="1.0" fill="#eb7f27"/>
<rect x="1838.8" y="822.6" width="54.1" height="1.7" fill="#377cb7"/>
<rect x="1892.9" y="822.6" width="54.1" height="4.2" fill="#eb7f27"/>
<rect x="2018.6" y="788.5" width="54.1" height="34.1" fill="#377cb7"/>
<rect x="2072.7" y="822.6" width="54.1" height="2.7" fill="#eb7f27"/>
<circle cx="1491.2" cy="775.3" r="5.4" fill="#7ccbd8"/>
<circle cx="1504.2" cy="773.5" r="5.4" fill="#7ccbd8"/>
<circle cx="1517.1" cy="771.3" r="5.4" fill="#7ccbd8"/>
<line x1="1497.4" y1="771.5" x2="1514.5" y2="771.5" stroke="#1c1c1c" stroke-width="1.1"/>
<line x1="1497.4" y1="775.3" x2="1514.5" y2="775.3" stroke="#1c1c1c" stroke-width="1.1"/>
<line x1="1506.0" y1="771.5" x2="1506.0" y2="775.3" stroke="#1c1c1c" stroke-width="1.1"/>
<circle cx="1547.4" cy="823.4" r="5.4" fill="#a92324"/>
<circle cx="1560.3" cy="844.2" r="5.4" fill="#a92324"/>
<circle cx="1573.2" cy="839.2" r="5.4" fill="#a92324"/>
<line x1="1552.0" y1="826.4" x2="1569.1" y2="826.4" stroke="#1c1c1c" stroke-width="1.1"/>
<line x1="1552.0" y1="846.0" x2="1569.1" y2="846.0" stroke="#1c1c1c" stroke-width="1.1"/>
<line x1="1560.5" y1="826.4" x2="1560.5" y2="846.0" stroke="#1c1c1c" stroke-width="1.1"/>
<circle cx="1671.5" cy="817.4" r="5.4" fill="#7ccbd8"/>
<circle cx="1684.4" cy="823.4" r="5.4" fill="#7ccbd8"/>
<circle cx="1697.3" cy="817.4" r="5.4" fill="#7ccbd8"/>
<line x1="1677.6" y1="816.4" x2="1694.8" y2="816.4" stroke="#1c1c1c" stroke-width="1.1"/>
<line x1="1677.6" y1="821.6" x2="1694.8" y2="821.6" stroke="#1c1c1c" stroke-width="1.1"/>
<line x1="1686.2" y1="816.4" x2="1686.2" y2="821.6" stroke="#1c1c1c" stroke-width="1.1"/>
<circle cx="1727.6" cy="819.7" r="5.4" fill="#a92324"/>
<circle cx="1740.5" cy="820.5" r="5.4" fill="#a92324"/>
<circle cx="1753.5" cy="822.0" r="5.4" fill="#a92324"/>
<line x1="1732.2" y1="820.0" x2="1749.3" y2="820.0" stroke="#1c1c1c" stroke-width="1.1"/>
<line x1="1732.2" y1="822.0" x2="1749.3" y2="822.0" stroke="#1c1c1c" stroke-width="1.1"/>
<line x1="1740.8" y1="820.0" x2="1740.8" y2="822.0" stroke="#1c1c1c" stroke-width="1.1"/>
<circle cx="1851.2" cy="824.8" r="5.4" fill="#7ccbd8"/>
<circle cx="1864.1" cy="821.1" r="5.4" fill="#7ccbd8"/>
<circle cx="1877.0" cy="826.8" r="5.4" fill="#7ccbd8"/>
<line x1="1857.3" y1="822.3" x2="1874.5" y2="822.3" stroke="#1c1c1c" stroke-width="1.1"/>
<line x1="1857.3" y1="826.3" x2="1874.5" y2="826.3" stroke="#1c1c1c" stroke-width="1.1"/>
<line x1="1865.9" y1="822.3" x2="1865.9" y2="826.3" stroke="#1c1c1c" stroke-width="1.1"/>
<circle cx="1907.3" cy="828.0" r="5.4" fill="#a92324"/>
<circle cx="1920.2" cy="826.3" r="5.4" fill="#a92324"/>
<circle cx="1933.2" cy="825.5" r="5.4" fill="#a92324"/>
<line x1="1911.9" y1="825.3" x2="1929.0" y2="825.3" stroke="#1c1c1c" stroke-width="1.1"/>
<line x1="1911.9" y1="827.3" x2="1929.0" y2="827.3" stroke="#1c1c1c" stroke-width="1.1"/>
<line x1="1920.5" y1="825.3" x2="1920.5" y2="827.3" stroke="#1c1c1c" stroke-width="1.1"/>
<circle cx="2030.9" cy="788.0" r="5.4" fill="#7ccbd8"/>
<circle cx="2043.8" cy="792.7" r="5.4" fill="#7ccbd8"/>
<circle cx="2056.8" cy="785.2" r="5.4" fill="#7ccbd8"/>
<line x1="2037.0" y1="785.5" x2="2054.2" y2="785.5" stroke="#1c1c1c" stroke-width="1.1"/>
<line x1="2037.0" y1="791.2" x2="2054.2" y2="791.2" stroke="#1c1c1c" stroke-width="1.1"/>
<line x1="2045.6" y1="785.5" x2="2045.6" y2="791.2" stroke="#1c1c1c" stroke-width="1.1"/>
<circle cx="2087.2" cy="827.5" r="5.4" fill="#a92324"/>
<circle cx="2100.1" cy="823.8" r="5.4" fill="#a92324"/>
<circle cx="2113.0" cy="825.3" r="5.4" fill="#a92324"/>
<line x1="2091.7" y1="824.3" x2="2108.8" y2="824.3" stroke="#1c1c1c" stroke-width="1.1"/>
<line x1="2091.7" y1="826.8" x2="2108.8" y2="826.8" stroke="#1c1c1c" stroke-width="1.1"/>
<line x1="2100.2" y1="824.3" x2="2100.2" y2="826.8" stroke="#1c1c1c" stroke-width="1.1"/>
</g>
<rect x="1446.8" y="715.1" width="712.7" height="129.1" fill="none" stroke="#383838" stroke-width="1.15"/>
<line x1="1432.8" y1="715.1" x2="1446.8" y2="715.1" stroke="#383838" stroke-width="1.15"/>
<text x="1421.0" y="723.6" font-size="24" text-anchor="end">1</text>
<line x1="1432.8" y1="822.6" x2="1446.8" y2="822.6" stroke="#383838" stroke-width="1.15"/>
<text x="1421.8" y="831.1" font-size="24" text-anchor="end" textLength="16.0" lengthAdjust="spacingAndGlyphs">0</text>
<line x1="1533.0" y1="844.2" x2="1533.0" y2="858.2" stroke="#383838" stroke-width="1.15"/>
<text x="1533.1" y="890.2" font-size="27" text-anchor="middle" textLength="75.7" lengthAdjust="spacingAndGlyphs">FUBP1</text>
<line x1="1713.2" y1="844.2" x2="1713.2" y2="858.2" stroke="#383838" stroke-width="1.15"/>
<text x="1712.8" y="890.2" font-size="27" text-anchor="middle" textLength="95.9" lengthAdjust="spacingAndGlyphs">FUBP1-1</text>
<line x1="1892.9" y1="844.2" x2="1892.9" y2="858.2" stroke="#383838" stroke-width="1.15"/>
<text x="1893.6" y="890.2" font-size="27" text-anchor="middle" textLength="100.3" lengthAdjust="spacingAndGlyphs">FUBP1-2</text>
<line x1="2072.7" y1="844.2" x2="2072.7" y2="858.2" stroke="#383838" stroke-width="1.15"/>
<text x="2072.9" y="890.2" font-size="27" text-anchor="middle" textLength="101.6" lengthAdjust="spacingAndGlyphs">FUBP1-3</text>
<text x="1355.6" y="780.0" font-size="27" text-anchor="middle" textLength="87.3" lengthAdjust="spacingAndGlyphs" transform="rotate(-90 1355.6 780.0)">ψ from</text>
<text x="1387.2" y="780.0" font-size="27" text-anchor="middle" textLength="177.5" lengthAdjust="spacingAndGlyphs" transform="rotate(-90 1387.2 780.0)">luminescence</text>
<clipPath id="ax5"><rect x="1446.8" y="967.5" width="712.7" height="129.0"/></clipPath>
<g clip-path="url(#ax5)">
<rect x="1479.0" y="1066.7" width="75.0" height="3.2" fill="#377cb7"/>
<rect x="1554.0" y="1034.3" width="75.0" height="32.4" fill="#eb7f27"/>
<rect x="1728.0" y="1066.7" width="75.0" height="11.5" fill="#377cb7"/>
<rect x="1803.0" y="1061.1" width="75.0" height="5.6" fill="#eb7f27"/>
<rect x="1977.1" y="1066.7" width="75.0" height="10.8" fill="#377cb7"/>
<rect x="2052.1" y="1049.4" width="75.0" height="17.3" fill="#eb7f27"/>
<circle cx="1501.8" cy="1062.6" r="5.4" fill="#7ccbd8"/>
<circle cx="1514.7" cy="1072.4" r="5.4" fill="#7ccbd8"/>
<circle cx="1527.6" cy="1073.4" r="5.4" fill="#7ccbd8"/>
<line x1="1507.9" y1="1064.6" x2="1525.1" y2="1064.6" stroke="#1c1c1c" stroke-width="1.1"/>
<line x1="1507.9" y1="1074.1" x2="1525.1" y2="1074.1" stroke="#1c1c1c" stroke-width="1.1"/>
<line x1="1516.5" y1="1064.6" x2="1516.5" y2="1074.1" stroke="#1c1c1c" stroke-width="1.1"/>
<circle cx="1580.7" cy="1037.1" r="5.4" fill="#a92324"/>
<circle cx="1593.6" cy="1035.3" r="5.4" fill="#a92324"/>
<circle cx="1606.5" cy="1030.5" r="5.4" fill="#a92324"/>
<line x1="1583.4" y1="1031.5" x2="1600.6" y2="1031.5" stroke="#1c1c1c" stroke-width="1.1"/>
<line x1="1583.4" y1="1037.1" x2="1600.6" y2="1037.1" stroke="#1c1c1c" stroke-width="1.1"/>
<line x1="1592.0" y1="1031.5" x2="1592.0" y2="1037.1" stroke="#1c1c1c" stroke-width="1.1"/>
<circle cx="1750.8" cy="1068.8" r="5.4" fill="#7ccbd8"/>
<circle cx="1763.7" cy="1091.4" r="5.4" fill="#7ccbd8"/>
<circle cx="1776.6" cy="1074.8" r="5.4" fill="#7ccbd8"/>
<line x1="1756.9" y1="1068.8" x2="1774.1" y2="1068.8" stroke="#1c1c1c" stroke-width="1.1"/>
<line x1="1756.9" y1="1087.5" x2="1774.1" y2="1087.5" stroke="#1c1c1c" stroke-width="1.1"/>
<line x1="1765.5" y1="1068.8" x2="1765.5" y2="1087.5" stroke="#1c1c1c" stroke-width="1.1"/>
<circle cx="1829.7" cy="1064.3" r="5.4" fill="#a92324"/>
<circle cx="1842.6" cy="1063.1" r="5.4" fill="#a92324"/>
<circle cx="1855.5" cy="1056.6" r="5.4" fill="#a92324"/>
<line x1="1832.4" y1="1057.8" x2="1849.6" y2="1057.8" stroke="#1c1c1c" stroke-width="1.1"/>
<line x1="1832.4" y1="1064.3" x2="1849.6" y2="1064.3" stroke="#1c1c1c" stroke-width="1.1"/>
<line x1="1841.0" y1="1057.8" x2="1841.0" y2="1064.3" stroke="#1c1c1c" stroke-width="1.1"/>
<circle cx="1999.9" cy="1071.5" r="5.4" fill="#7ccbd8"/>
<circle cx="2012.8" cy="1077.5" r="5.4" fill="#7ccbd8"/>
<circle cx="2025.7" cy="1083.5" r="5.4" fill="#7ccbd8"/>
<line x1="2006.0" y1="1072.5" x2="2023.2" y2="1072.5" stroke="#1c1c1c" stroke-width="1.1"/>
<line x1="2006.0" y1="1082.2" x2="2023.2" y2="1082.2" stroke="#1c1c1c" stroke-width="1.1"/>
<line x1="2014.6" y1="1072.5" x2="2014.6" y2="1082.2" stroke="#1c1c1c" stroke-width="1.1"/>
<circle cx="2078.8" cy="1052.4" r="5.4" fill="#a92324"/>
<circle cx="2091.7" cy="1049.1" r="5.4" fill="#a92324"/>
<circle cx="2104.6" cy="1046.9" r="5.4" fill="#a92324"/>
<line x1="2081.5" y1="1047.4" x2="2098.7" y2="1047.4" stroke="#1c1c1c" stroke-width="1.1"/>
<line x1="2081.5" y1="1051.6" x2="2098.7" y2="1051.6" stroke="#1c1c1c" stroke-width="1.1"/>
<line x1="2090.1" y1="1047.4" x2="2090.1" y2="1051.6" stroke="#1c1c1c" stroke-width="1.1"/>
</g>
<rect x="1446.8" y="967.5" width="712.7" height="129.0" fill="none" stroke="#383838" stroke-width="1.15"/>
<line x1="1432.8" y1="967.5" x2="1446.8" y2="967.5" stroke="#383838" stroke-width="1.15"/>
<text x="1421.0" y="976.0" font-size="24" text-anchor="end">1</text>
<line x1="1432.8" y1="1066.7" x2="1446.8" y2="1066.7" stroke="#383838" stroke-width="1.15"/>
<text x="1421.8" y="1075.2" font-size="24" text-anchor="end" textLength="16.0" lengthAdjust="spacingAndGlyphs">0</text>
<line x1="1554.0" y1="1096.5" x2="1554.0" y2="1110.5" stroke="#383838" stroke-width="1.15"/>
<text x="1554.4" y="1141.6" font-size="27" text-anchor="middle" textLength="81.2" lengthAdjust="spacingAndGlyphs">U2AF2</text>
<line x1="1803.0" y1="1096.5" x2="1803.0" y2="1110.5" stroke="#383838" stroke-width="1.15"/>
<text x="1802.7" y="1141.6" font-size="27" text-anchor="middle" textLength="100.4" lengthAdjust="spacingAndGlyphs">U2AF2-1</text>
<line x1="2052.1" y1="1096.5" x2="2052.1" y2="1110.5" stroke="#383838" stroke-width="1.15"/>
<text x="2052.2" y="1141.6" font-size="27" text-anchor="middle" textLength="105.1" lengthAdjust="spacingAndGlyphs">U2AF2-2</text>
<text x="1355.6" y="1032.2" font-size="27" text-anchor="middle" textLength="87.3" lengthAdjust="spacingAndGlyphs" transform="rotate(-90 1355.6 1032.2)">ψ from</text>
<text x="1387.2" y="1032.2" font-size="27" text-anchor="middle" textLength="177.5" lengthAdjust="spacingAndGlyphs" transform="rotate(-90 1387.2 1032.2)">luminescence</text>
<clipPath id="ax6"><rect x="1446.8" y="1171.2" width="712.7" height="128.5"/></clipPath>
<g clip-path="url(#ax6)">
<rect x="1479.0" y="1261.1" width="75.0" height="17.3" fill="#377cb7"/>
<rect x="1554.0" y="1225.8" width="75.0" height="52.6" fill="#eb7f27"/>
<rect x="1728.0" y="1278.4" width="75.0" height="9.3" fill="#377cb7"/>
<rect x="1803.0" y="1278.4" width="75.0" height="13.3" fill="#eb7f27"/>
<rect x="1977.1" y="1230.2" width="75.0" height="48.2" fill="#377cb7"/>
<rect x="2052.1" y="1247.9" width="75.0" height="30.5" fill="#eb7f27"/>
<circle cx="1501.8" cy="1262.8" r="5.4" fill="#7ccbd8"/>
<circle cx="1514.7" cy="1261.8" r="5.4" fill="#7ccbd8"/>
<circle cx="1527.6" cy="1258.3" r="5.4" fill="#7ccbd8"/>
<line x1="1507.9" y1="1259.3" x2="1525.1" y2="1259.3" stroke="#1c1c1c" stroke-width="1.1"/>
<line x1="1507.9" y1="1262.8" x2="1525.1" y2="1262.8" stroke="#1c1c1c" stroke-width="1.1"/>
<line x1="1516.5" y1="1259.3" x2="1516.5" y2="1262.8" stroke="#1c1c1c" stroke-width="1.1"/>
<circle cx="1580.7" cy="1227.5" r="5.4" fill="#a92324"/>
<circle cx="1593.6" cy="1226.5" r="5.4" fill="#a92324"/>
<circle cx="1606.5" cy="1224.0" r="5.4" fill="#a92324"/>
<line x1="1583.4" y1="1225.0" x2="1600.6" y2="1225.0" stroke="#1c1c1c" stroke-width="1.1"/>
<line x1="1583.4" y1="1227.0" x2="1600.6" y2="1227.0" stroke="#1c1c1c" stroke-width="1.1"/>
<line x1="1592.0" y1="1225.0" x2="1592.0" y2="1227.0" stroke="#1c1c1c" stroke-width="1.1"/>
<circle cx="1750.8" cy="1289.0" r="5.4" fill="#7ccbd8"/>
<circle cx="1763.7" cy="1282.5" r="5.4" fill="#7ccbd8"/>
<circle cx="1776.6" cy="1290.2" r="5.4" fill="#7ccbd8"/>
<line x1="1756.9" y1="1285.5" x2="1774.1" y2="1285.5" stroke="#1c1c1c" stroke-width="1.1"/>
<line x1="1756.9" y1="1290.2" x2="1774.1" y2="1290.2" stroke="#1c1c1c" stroke-width="1.1"/>
<line x1="1765.5" y1="1285.5" x2="1765.5" y2="1290.2" stroke="#1c1c1c" stroke-width="1.1"/>
<circle cx="1829.7" cy="1286.5" r="5.4" fill="#a92324"/>
<circle cx="1842.6" cy="1299.2" r="5.4" fill="#a92324"/>
<circle cx="1855.5" cy="1288.7" r="5.4" fill="#a92324"/>
<line x1="1832.4" y1="1286.2" x2="1849.6" y2="1286.2" stroke="#1c1c1c" stroke-width="1.1"/>
<line x1="1832.4" y1="1297.4" x2="1849.6" y2="1297.4" stroke="#1c1c1c" stroke-width="1.1"/>
<line x1="1841.0" y1="1286.2" x2="1841.0" y2="1297.4" stroke="#1c1c1c" stroke-width="1.1"/>
<circle cx="1999.9" cy="1230.2" r="5.4" fill="#7ccbd8"/>
<circle cx="2012.8" cy="1231.5" r="5.4" fill="#7ccbd8"/>
<circle cx="2025.7" cy="1229.0" r="5.4" fill="#7ccbd8"/>
<line x1="2006.0" y1="1229.5" x2="2023.2" y2="1229.5" stroke="#1c1c1c" stroke-width="1.1"/>
<line x1="2006.0" y1="1231.2" x2="2023.2" y2="1231.2" stroke="#1c1c1c" stroke-width="1.1"/>
<line x1="2014.6" y1="1229.5" x2="2014.6" y2="1231.2" stroke="#1c1c1c" stroke-width="1.1"/>
<circle cx="2078.8" cy="1249.2" r="5.4" fill="#a92324"/>
<circle cx="2091.7" cy="1247.2" r="5.4" fill="#a92324"/>
<circle cx="2104.6" cy="1246.7" r="5.4" fill="#a92324"/>
<line x1="2081.5" y1="1246.7" x2="2098.7" y2="1246.7" stroke="#1c1c1c" stroke-width="1.1"/>
<line x1="2081.5" y1="1248.4" x2="2098.7" y2="1248.4" stroke="#1c1c1c" stroke-width="1.1"/>
<line x1="2090.1" y1="1246.7" x2="2090.1" y2="1248.4" stroke="#1c1c1c" stroke-width="1.1"/>
</g>
<rect x="1446.8" y="1171.2" width="712.7" height="128.5" fill="none" stroke="#383838" stroke-width="1.15"/>
<line x1="1432.8" y1="1171.2" x2="1446.8" y2="1171.2" stroke="#383838" stroke-width="1.15"/>
<text x="1421.0" y="1179.7" font-size="24" text-anchor="end">1</text>
<line x1="1432.8" y1="1278.4" x2="1446.8" y2="1278.4" stroke="#383838" stroke-width="1.15"/>
<text x="1421.8" y="1286.9" font-size="24" text-anchor="end" textLength="16.0" lengthAdjust="spacingAndGlyphs">0</text>
<line x1="1554.0" y1="1299.7" x2="1554.0" y2="1313.7" stroke="#383838" stroke-width="1.15"/>
<text x="1554.1" y="1345.4" font-size="27" text-anchor="middle" textLength="95.2" lengthAdjust="spacingAndGlyphs">SRSF10</text>
<line x1="1803.0" y1="1299.7" x2="1803.0" y2="1313.7" stroke="#383838" stroke-width="1.15"/>
<text x="1802.7" y="1345.4" font-size="27" text-anchor="middle" textLength="114.2" lengthAdjust="spacingAndGlyphs">SRSF10-1</text>
<line x1="2052.1" y1="1299.7" x2="2052.1" y2="1313.7" stroke="#383838" stroke-width="1.15"/>
<text x="2052.1" y="1345.4" font-size="27" text-anchor="middle" textLength="118.5" lengthAdjust="spacingAndGlyphs">SRSF10-2</text>
<text x="1355.6" y="1235.4" font-size="27" text-anchor="middle" textLength="87.3" lengthAdjust="spacingAndGlyphs" transform="rotate(-90 1355.6 1235.4)">ψ from</text>
<text x="1387.2" y="1235.4" font-size="27" text-anchor="middle" textLength="177.5" lengthAdjust="spacingAndGlyphs" transform="rotate(-90 1387.2 1235.4)">luminescence</text>
<text x="-0.4" y="1403.0" font-size="36.5" textLength="25.6" lengthAdjust="spacingAndGlyphs" font-weight="bold" fill="#1a1a1a" stroke="#1a1a1a" stroke-width="1.1" stroke-linejoin="round">g</text>
<text x="127.8" y="1466.6" font-size="27" textLength="149.7" lengthAdjust="spacingAndGlyphs">Truncations</text>
<path d="M 254.0 1536.2 C 256.5 1534.2 259.6 1531.3 263.6 1529.7 C 267.6 1528.1 273.2 1527.5 278.0 1526.6 C 282.8 1525.7 288.4 1525.3 292.4 1524.2 C 296.4 1523.1 298.8 1522.1 302.0 1519.9 C 305.2 1517.7 308.4 1514.5 311.6 1511.3 C 314.8 1508.1 317.5 1503.7 321.2 1500.7 C 324.8 1497.7 329.3 1494.7 333.6 1493.0 C 337.9 1491.3 342.6 1490.6 347.1 1490.6 C 351.5 1490.6 356.3 1491.3 360.5 1493.0 C 364.7 1494.7 368.6 1497.5 372.0 1500.7 C 375.4 1503.9 378.4 1508.1 380.6 1512.2 C 382.9 1516.4 384.2 1521.2 385.4 1525.7 C 386.6 1530.1 387.5 1534.6 387.8 1539.1 C 388.2 1543.6 388.1 1548.4 387.4 1552.5 C 386.6 1556.7 385.3 1560.4 383.5 1564.0 C 381.8 1567.7 379.7 1571.5 376.8 1574.6 C 373.9 1577.6 370.2 1580.3 366.3 1582.3 C 362.3 1584.3 357.9 1585.5 352.8 1586.6 C 347.7 1587.7 343.2 1588.5 335.5 1589.0 C 327.9 1589.4 316.4 1589.2 306.8 1589.2 C 297.2 1589.2 284.7 1589.3 278.0 1589.0 C 271.3 1588.7 270.1 1588.5 266.5 1587.5 C 262.8 1586.6 258.9 1585.1 255.9 1583.2 C 252.9 1581.4 250.1 1579.4 248.2 1576.5 C 246.3 1573.6 245.0 1570.1 244.4 1566.0 C 243.8 1561.8 243.8 1555.6 244.4 1551.6 C 245.0 1547.6 246.6 1544.5 248.2 1542.0 C 249.8 1539.4 251.4 1538.3 254.0 1536.2 Z" fill="#f7f9f9" stroke="#c2cae5" stroke-width="7.4" stroke-linejoin="round"/>
<g>
<path d="M 185.1 1475.1 C 187.8 1475.5 192.1 1476.5 194.4 1478.6 C 196.8 1480.8 198.1 1486.0 199.1 1488.0 C 200.1 1490.0 199.2 1490.3 200.4 1490.6 C 201.6 1490.9 204.5 1489.4 206.4 1489.7 C 208.2 1490.0 210.5 1491.2 211.5 1492.3 C 212.5 1493.4 211.4 1494.9 212.3 1496.6 C 213.3 1498.3 216.3 1501.0 217.5 1502.5 C 218.6 1504.1 217.5 1504.8 219.2 1505.9 C 220.9 1507.1 225.1 1507.8 227.7 1509.3 C 230.3 1510.9 233.0 1513.3 234.5 1515.3 C 236.1 1517.3 236.9 1519.2 237.1 1521.3 C 237.2 1523.4 235.9 1526.1 235.4 1528.1 C 234.8 1530.1 233.7 1532.1 233.7 1533.2 C 233.7 1534.4 233.8 1534.9 235.4 1534.9 C 236.9 1534.9 240.6 1533.1 243.0 1533.2 C 245.5 1533.4 248.3 1534.4 249.9 1535.8 C 251.4 1537.2 252.4 1539.6 252.4 1541.8 C 252.4 1543.9 250.3 1546.6 249.9 1548.6 C 249.4 1550.6 249.2 1552.3 249.9 1553.7 C 250.6 1555.1 253.7 1555.5 254.1 1557.1 C 254.6 1558.7 253.1 1560.9 252.4 1563.1 C 251.7 1565.2 251.4 1568.1 249.9 1569.9 C 248.3 1571.8 245.2 1573.2 243.0 1574.2 C 240.9 1575.2 237.6 1574.6 237.1 1575.9 C 236.5 1577.2 239.5 1580.1 239.6 1581.8 C 239.8 1583.6 239.1 1585.0 237.9 1586.1 C 236.8 1587.2 234.9 1588.4 232.8 1588.7 C 230.7 1589.0 227.1 1587.5 225.1 1587.8 C 223.1 1588.1 222.7 1590.1 220.9 1590.4 C 219.0 1590.7 215.9 1590.5 214.1 1589.5 C 212.2 1588.5 210.9 1586.1 209.8 1584.4 C 208.6 1582.7 208.9 1580.1 207.2 1579.3 C 205.5 1578.4 203.0 1578.7 199.6 1579.3 C 196.1 1579.9 191.0 1582.1 186.8 1582.7 C 182.5 1583.3 177.5 1582.4 174.0 1582.7 C 170.4 1583.0 168.0 1584.5 165.4 1584.4 C 162.9 1584.3 160.5 1583.3 158.6 1581.8 C 156.8 1580.4 155.3 1577.7 154.3 1575.9 C 153.4 1574.0 154.3 1571.5 152.6 1570.8 C 150.9 1570.0 146.2 1572.2 144.1 1571.6 C 142.0 1571.0 140.7 1568.8 139.9 1567.3 C 139.0 1565.9 140.1 1564.2 139.0 1563.1 C 137.9 1561.9 134.4 1561.8 133.0 1560.5 C 131.6 1559.2 130.5 1557.1 130.5 1555.4 C 130.5 1553.7 131.5 1551.6 133.0 1550.3 C 134.6 1549.0 139.7 1548.2 139.9 1547.7 C 140.0 1547.2 136.3 1547.6 133.9 1547.3 C 131.5 1547.0 127.3 1547.1 125.4 1546.0 C 123.4 1545.0 122.1 1542.5 121.9 1540.9 C 121.8 1539.3 123.1 1538.1 124.5 1536.6 C 125.9 1535.2 129.0 1534.1 130.5 1532.4 C 131.9 1530.7 132.2 1528.8 133.0 1526.4 C 133.9 1524.0 134.6 1519.9 135.6 1517.9 C 136.6 1515.9 136.9 1515.6 139.0 1514.5 C 141.1 1513.3 145.3 1511.9 148.4 1511.1 C 151.5 1510.2 155.5 1509.8 157.8 1509.3 C 160.0 1508.9 161.6 1509.5 162.0 1508.5 C 162.5 1507.5 160.7 1505.2 160.3 1503.4 C 160.0 1501.5 159.3 1499.4 159.9 1497.4 C 160.5 1495.4 162.1 1493.0 163.7 1491.4 C 165.4 1489.9 168.1 1489.9 169.7 1488.0 C 171.3 1486.2 171.7 1482.3 173.1 1480.4 C 174.5 1478.4 176.2 1477.0 178.2 1476.1 C 180.2 1475.2 182.4 1474.6 185.1 1475.1 Z" fill="#cc8720" stroke="#9d4f17" stroke-width="1.4" stroke-linejoin="round"/>
<path d="M 179.9 1550.3 C 183.3 1548.0 189.2 1545.7 195.3 1544.3 C 201.4 1542.9 210.4 1543.2 216.6 1541.8 C 222.9 1540.3 228.1 1536.1 232.8 1535.8 C 237.5 1535.5 241.9 1537.4 244.8 1540.1 C 247.6 1542.8 248.9 1548.2 249.9 1552.0 C 250.9 1555.8 251.6 1559.8 250.7 1563.1 C 249.9 1566.4 247.2 1569.3 244.8 1571.6 C 242.3 1573.9 237.8 1574.6 236.2 1576.7 C 234.7 1578.9 237.9 1582.6 235.4 1584.4 C 232.8 1586.3 224.9 1588.0 220.9 1587.8 C 216.9 1587.7 214.1 1585.3 211.5 1583.6 C 208.9 1581.8 208.9 1578.1 205.5 1577.6 C 202.1 1577.0 196.7 1579.6 191.0 1580.1 C 185.3 1580.7 176.4 1581.7 171.4 1581.0 C 166.4 1580.3 162.3 1578.4 161.2 1575.9 C 160.0 1573.3 162.3 1568.6 164.6 1565.6 C 166.9 1562.7 172.3 1560.5 174.8 1558.0 C 177.4 1555.4 176.5 1552.6 179.9 1550.3 Z" fill="#c67c20"/>
<path d="M 178.2 1494.0 C 179.2 1494.6 181.9 1497.0 184.2 1497.4 C 186.5 1497.8 189.5 1497.7 191.9 1496.6 C 194.3 1495.4 197.6 1491.6 198.7 1490.6" fill="none" stroke="#bb771f" stroke-width="1.1" stroke-linecap="round" opacity="0.75"/>
<path d="M 191.9 1496.6 C 192.4 1497.3 193.3 1499.4 195.3 1500.8 C 197.3 1502.2 201.0 1504.8 203.8 1505.1 C 206.7 1505.4 210.9 1503.0 212.3 1502.5" fill="none" stroke="#bb771f" stroke-width="1.1" stroke-linecap="round" opacity="0.75"/>
<path d="M 176.5 1520.4 C 177.4 1519.7 179.2 1517.5 181.6 1516.2 C 184.1 1514.9 188.6 1514.2 191.0 1512.8 C 193.4 1511.3 195.3 1508.5 196.1 1507.6" fill="none" stroke="#bb771f" stroke-width="1.1" stroke-linecap="round" opacity="0.75"/>
<path d="M 162.0 1508.5 C 163.3 1508.9 167.4 1509.8 169.7 1511.1 C 172.0 1512.3 174.4 1514.5 175.7 1516.2 C 177.0 1517.9 177.5 1519.0 177.4 1521.3 C 177.2 1523.6 175.4 1527.1 174.8 1529.8 C 174.3 1532.5 174.1 1536.2 174.0 1537.5" fill="none" stroke="#bb771f" stroke-width="1.1" stroke-linecap="round" opacity="0.75"/>
<path d="M 175.7 1505.9 C 176.0 1507.1 176.5 1511.1 177.4 1512.8 C 178.2 1514.5 180.2 1515.6 180.8 1516.2" fill="none" stroke="#bb771f" stroke-width="1.1" stroke-linecap="round" opacity="0.75"/>
<path d="M 135.6 1517.9 C 137.0 1518.2 141.0 1519.6 144.1 1519.6 C 147.2 1519.6 151.5 1517.9 154.3 1517.9 C 157.2 1517.9 160.0 1519.3 161.2 1519.6" fill="none" stroke="#bb771f" stroke-width="1.1" stroke-linecap="round" opacity="0.75"/>
<path d="M 142.4 1531.5 C 143.8 1531.2 147.8 1531.0 150.9 1529.8 C 154.1 1528.7 159.5 1525.6 161.2 1524.7" fill="none" stroke="#bb771f" stroke-width="1.1" stroke-linecap="round" opacity="0.75"/>
<path d="M 197.0 1526.4 C 198.0 1526.8 200.8 1529.1 203.0 1529.0 C 205.1 1528.8 208.6 1526.1 209.8 1525.6" fill="none" stroke="#bb771f" stroke-width="1.1" stroke-linecap="round" opacity="0.75"/>
<path d="M 174.0 1537.5 C 174.7 1538.6 176.1 1542.8 178.2 1544.3 C 180.4 1545.9 183.9 1546.7 186.8 1546.9 C 189.6 1547.0 193.9 1545.5 195.3 1545.2" fill="none" stroke="#bb771f" stroke-width="1.1" stroke-linecap="round" opacity="0.75"/>
<path d="M 133.0 1550.3 C 134.6 1550.4 139.1 1550.7 142.4 1551.1 C 145.7 1551.6 150.9 1552.6 152.6 1552.8" fill="none" stroke="#bb771f" stroke-width="1.1" stroke-linecap="round" opacity="0.75"/>
<path d="M 164.6 1554.6 C 165.4 1554.7 168.0 1555.7 169.7 1555.4 C 171.4 1555.1 174.0 1553.3 174.8 1552.8" fill="none" stroke="#bb771f" stroke-width="1.1" stroke-linecap="round" opacity="0.75"/>
<ellipse cx="223.4" cy="1537.5" rx="6.8" ry="4.7" fill="#cc8822" transform="rotate(0 223.4 1537.5)"/>
<ellipse cx="208.1" cy="1547.7" rx="4.7" ry="4.3" fill="#cc8822" transform="rotate(-20 208.1 1547.7)"/>
<ellipse cx="202.1" cy="1562.2" rx="19.6" ry="6.4" fill="#cc8822" transform="rotate(8 202.1 1562.2)"/>
<ellipse cx="170.6" cy="1571.6" rx="12.8" ry="7.2" fill="#cc8822" transform="rotate(-12 170.6 1571.6)"/>
<ellipse cx="216.6" cy="1580.1" rx="6.4" ry="5.5" fill="#cc8822" transform="rotate(0 216.6 1580.1)"/>
<ellipse cx="231.1" cy="1580.1" rx="6.4" ry="3.8" fill="#cc8822" transform="rotate(0 231.1 1580.1)"/>
<ellipse cx="240.9" cy="1544.3" rx="8.1" ry="7.2" fill="#cc8822" transform="rotate(0 240.9 1544.3)"/>
<ellipse cx="191.9" cy="1551.1" rx="3.4" ry="2.1" fill="#cc8822" transform="rotate(0 191.9 1551.1)"/>
</g>
<rect x="257.2" y="1570.7" width="87.5" height="9.6" fill="#3f6bb0"/>
<rect x="265.3" y="1545.0" width="5.5" height="26.4" fill="#3f6bb0"/>
<rect x="287.2" y="1545.0" width="5.7" height="26.4" fill="#3f6bb0"/>
<rect x="309.0" y="1545.0" width="5.5" height="26.4" fill="#3f6bb0"/>
<rect x="330.6" y="1545.0" width="5.5" height="26.4" fill="#3f6bb0"/>
<rect x="349.9" y="1570.7" width="21.9" height="9.6" fill="#0d0d0d"/>
<rect x="358.1" y="1545.0" width="5.5" height="26.4" fill="#0d0d0d"/>
<text x="409.8" y="1560.5" font-size="27" textLength="107.5" lengthAdjust="spacingAndGlyphs">dCas13d</text>
<line x1="230.5" y1="1736.3" x2="349.4" y2="1736.3" stroke="#454545" stroke-width="3.2"/>
<line x1="407.0" y1="1736.3" x2="527.6" y2="1736.3" stroke="#454545" stroke-width="3.2"/>
<polygon points="393.3,1710.6 384.9,1719.0 372.9,1719.0 364.5,1710.6 364.5,1698.6 372.9,1690.2 384.9,1690.2 393.3,1698.6" fill="#e52e2f" stroke="#9c3a33" stroke-width="0.8"/>
<polygon points="666.7,1711.2 658.3,1719.6 646.3,1719.6 637.9,1711.2 637.9,1699.2 646.3,1690.8 658.3,1690.8 666.7,1699.2" fill="#e52e2f" stroke="#9c3a33" stroke-width="0.8"/>
<rect x="119.2" y="1720.0" width="68.1" height="33.0" fill="#ffffff" stroke="#1a1a1a" stroke-width="1.5"/>
<rect x="187.3" y="1720.0" width="43.2" height="33.0" fill="#e7d6ca" stroke="#8d6a58" stroke-width="1.3"/>
<rect x="349.4" y="1720.0" width="57.6" height="33.0" fill="#d0d5ea" stroke="#5b6cb0" stroke-width="1.3"/>
<rect x="527.6" y="1720.0" width="56.9" height="33.0" fill="#e7d6ca" stroke="#8d6a58" stroke-width="1.3"/>
<rect x="584.5" y="1720.0" width="74.5" height="33.0" fill="#ffffff" stroke="#1a1a1a" stroke-width="1.5"/>
<path d="M 119.4 1753.6 L 119.4 1699.2 L 136 1699.2" fill="none" stroke="#111" stroke-width="2.4"/>
<path d="M 149.5 1699.2 L 132.5 1693.2 L 136.5 1699.2 L 132.5 1705.2 Z" fill="#111"/>
<text x="153.4" y="1743.8" font-size="22" text-anchor="middle" textLength="59.9" lengthAdjust="spacingAndGlyphs">Firefly</text>
<text x="210.2" y="1743.8" font-size="22" text-anchor="middle" textLength="38.4" lengthAdjust="spacingAndGlyphs">EX9</text>
<text x="378.7" y="1743.8" font-size="22" text-anchor="middle" textLength="47.5" lengthAdjust="spacingAndGlyphs">EX10</text>
<text x="556.0" y="1743.8" font-size="22" text-anchor="middle" textLength="42.5" lengthAdjust="spacingAndGlyphs">EX11</text>
<text x="621.2" y="1743.8" font-size="22" text-anchor="middle" textLength="65.6" lengthAdjust="spacingAndGlyphs">Renilla</text>
<text x="293.5" y="1760.4" font-size="22" text-anchor="middle" textLength="38.1" lengthAdjust="spacingAndGlyphs">5′IN</text>
<text x="471.1" y="1760.4" font-size="22" text-anchor="middle" textLength="38.4" lengthAdjust="spacingAndGlyphs">3′IN</text>
<line x1="268.9" y1="1658.9" x2="309.5" y2="1658.9" stroke="#1a1a1a" stroke-width="3.2"/>
<text x="291.9" y="1651.6" font-size="22" text-anchor="middle" textLength="25.3" lengthAdjust="spacingAndGlyphs">g4</text>
<line x1="289.3" y1="1691.5" x2="329.6" y2="1691.5" stroke="#1a1a1a" stroke-width="3.2"/>
<text x="308.0" y="1684.2" font-size="22" text-anchor="middle" textLength="25.6" lengthAdjust="spacingAndGlyphs">g5</text>
<line x1="305.3" y1="1722.6" x2="345.6" y2="1722.6" stroke="#1a1a1a" stroke-width="3.2"/>
<text x="328.6" y="1714.9" font-size="22" text-anchor="middle" textLength="25.3" lengthAdjust="spacingAndGlyphs">g6</text>
<line x1="398.0" y1="1659.9" x2="438.7" y2="1659.9" stroke="#1a1a1a" stroke-width="3.2"/>
<text x="421.1" y="1652.5" font-size="22" text-anchor="middle" textLength="21.5" lengthAdjust="spacingAndGlyphs">g1</text>
<line x1="418.2" y1="1692.2" x2="458.8" y2="1692.2" stroke="#1a1a1a" stroke-width="3.2"/>
<text x="437.6" y="1684.8" font-size="22" text-anchor="middle" textLength="25.5" lengthAdjust="spacingAndGlyphs">g2</text>
<line x1="434.5" y1="1722.9" x2="474.8" y2="1722.9" stroke="#1a1a1a" stroke-width="3.2"/>
<text x="457.9" y="1715.5" font-size="22" text-anchor="middle" textLength="25.3" lengthAdjust="spacingAndGlyphs">g3</text>
<text x="777.6" y="1603.4" font-size="27.6" text-anchor="middle" textLength="408.4" lengthAdjust="spacingAndGlyphs" transform="rotate(-90 777.6 1603.4)">ψ from luminescence (lucMAPT)</text>
<line x1="876.4" y1="1679.9" x2="908.8" y2="1679.9" stroke="#dcc3e0" stroke-width="0.8"/>
<rect x="917.0" y="1627.8" width="32.5" height="52.1" fill="#8a4f94"/>
<rect x="957.1" y="1638.8" width="32.5" height="41.1" fill="#8a4f94"/>
<rect x="997.8" y="1633.0" width="32.5" height="46.9" fill="#8a4f94"/>
<rect x="1038.2" y="1679.9" width="32.5" height="43.8" fill="#8a4f94"/>
<rect x="1078.3" y="1679.9" width="32.5" height="46.6" fill="#8a4f94"/>
<rect x="1119.0" y="1679.9" width="32.5" height="46.6" fill="#8a4f94"/>
<circle cx="879.8" cy="1638.7" r="5.3" fill="#939598"/>
<circle cx="892.6" cy="1719.9" r="5.3" fill="#939598"/>
<circle cx="905.5" cy="1679.4" r="5.3" fill="#939598"/>
<circle cx="920.4" cy="1618.3" r="5.3" fill="#939598"/>
<circle cx="933.2" cy="1627.4" r="5.3" fill="#939598"/>
<circle cx="946.1" cy="1637.5" r="5.3" fill="#939598"/>
<circle cx="960.5" cy="1629.3" r="5.3" fill="#939598"/>
<circle cx="973.4" cy="1635.8" r="5.3" fill="#939598"/>
<circle cx="986.2" cy="1651.4" r="5.3" fill="#939598"/>
<circle cx="1001.1" cy="1629.7" r="5.3" fill="#939598"/>
<circle cx="1014.0" cy="1628.4" r="5.3" fill="#939598"/>
<circle cx="1026.8" cy="1641.6" r="5.3" fill="#939598"/>
<circle cx="1041.6" cy="1725.6" r="5.3" fill="#939598"/>
<circle cx="1054.4" cy="1719.0" r="5.3" fill="#939598"/>
<circle cx="1067.2" cy="1726.3" r="5.3" fill="#939598"/>
<circle cx="1081.8" cy="1731.2" r="5.3" fill="#939598"/>
<circle cx="1094.6" cy="1722.2" r="5.3" fill="#939598"/>
<circle cx="1107.4" cy="1725.6" r="5.3" fill="#939598"/>
<circle cx="1122.5" cy="1725.4" r="5.3" fill="#939598"/>
<circle cx="1135.3" cy="1735.6" r="5.3" fill="#939598"/>
<circle cx="1148.1" cy="1718.8" r="5.3" fill="#939598"/>
<line x1="884.2" y1="1638.7" x2="901.0" y2="1638.7" stroke="#2a2a2a" stroke-width="1.2"/>
<line x1="884.2" y1="1719.8" x2="901.0" y2="1719.8" stroke="#2a2a2a" stroke-width="1.2"/>
<line x1="892.6" y1="1638.7" x2="892.6" y2="1719.8" stroke="#2a2a2a" stroke-width="1.2"/>
<line x1="924.8" y1="1618.1" x2="941.6" y2="1618.1" stroke="#2a2a2a" stroke-width="1.2"/>
<line x1="924.8" y1="1637.3" x2="941.6" y2="1637.3" stroke="#2a2a2a" stroke-width="1.2"/>
<line x1="933.2" y1="1618.1" x2="933.2" y2="1637.3" stroke="#2a2a2a" stroke-width="1.2"/>
<line x1="965.0" y1="1627.3" x2="981.8" y2="1627.3" stroke="#2a2a2a" stroke-width="1.2"/>
<line x1="965.0" y1="1650.4" x2="981.8" y2="1650.4" stroke="#2a2a2a" stroke-width="1.2"/>
<line x1="973.4" y1="1627.3" x2="973.4" y2="1650.4" stroke="#2a2a2a" stroke-width="1.2"/>
<line x1="1005.6" y1="1625.4" x2="1022.4" y2="1625.4" stroke="#2a2a2a" stroke-width="1.2"/>
<line x1="1005.6" y1="1640.5" x2="1022.4" y2="1640.5" stroke="#2a2a2a" stroke-width="1.2"/>
<line x1="1014.0" y1="1625.4" x2="1014.0" y2="1640.5" stroke="#2a2a2a" stroke-width="1.2"/>
<line x1="1046.0" y1="1719.4" x2="1062.8" y2="1719.4" stroke="#2a2a2a" stroke-width="1.2"/>
<line x1="1046.0" y1="1727.4" x2="1062.8" y2="1727.4" stroke="#2a2a2a" stroke-width="1.2"/>
<line x1="1054.4" y1="1719.4" x2="1054.4" y2="1727.4" stroke="#2a2a2a" stroke-width="1.2"/>
<line x1="1086.2" y1="1722.2" x2="1103.0" y2="1722.2" stroke="#2a2a2a" stroke-width="1.2"/>
<line x1="1086.2" y1="1730.6" x2="1103.0" y2="1730.6" stroke="#2a2a2a" stroke-width="1.2"/>
<line x1="1094.6" y1="1722.2" x2="1094.6" y2="1730.6" stroke="#2a2a2a" stroke-width="1.2"/>
<line x1="1126.9" y1="1717.9" x2="1143.7" y2="1717.9" stroke="#2a2a2a" stroke-width="1.2"/>
<line x1="1126.9" y1="1734.9" x2="1143.7" y2="1734.9" stroke="#2a2a2a" stroke-width="1.2"/>
<line x1="1135.3" y1="1717.9" x2="1135.3" y2="1734.9" stroke="#2a2a2a" stroke-width="1.2"/>
<rect x="862.8" y="1461.8" width="302.8" height="283.2" fill="none" stroke="#383838" stroke-width="1.15"/>
<line x1="892.6" y1="1745.0" x2="892.6" y2="1759.5" stroke="#383838" stroke-width="1.15"/>
<text x="892.9" y="1791.3" font-size="27" text-anchor="middle" textLength="33.4" lengthAdjust="spacingAndGlyphs">NT</text>
<line x1="933.2" y1="1745.0" x2="933.2" y2="1759.5" stroke="#383838" stroke-width="1.15"/>
<text x="933.5" y="1791.3" font-size="27" text-anchor="middle" textLength="29.5" lengthAdjust="spacingAndGlyphs">g1</text>
<line x1="973.4" y1="1745.0" x2="973.4" y2="1759.5" stroke="#383838" stroke-width="1.15"/>
<text x="973.7" y="1791.3" font-size="27" text-anchor="middle" textLength="33.0" lengthAdjust="spacingAndGlyphs">g2</text>
<line x1="1014.0" y1="1745.0" x2="1014.0" y2="1759.5" stroke="#383838" stroke-width="1.15"/>
<text x="1014.3" y="1791.3" font-size="27" text-anchor="middle" textLength="33.0" lengthAdjust="spacingAndGlyphs">g3</text>
<line x1="1054.4" y1="1745.0" x2="1054.4" y2="1759.5" stroke="#383838" stroke-width="1.15"/>
<text x="1054.7" y="1791.3" font-size="27" text-anchor="middle" textLength="33.0" lengthAdjust="spacingAndGlyphs">g4</text>
<line x1="1094.6" y1="1745.0" x2="1094.6" y2="1759.5" stroke="#383838" stroke-width="1.15"/>
<text x="1094.9" y="1791.3" font-size="27" text-anchor="middle" textLength="33.0" lengthAdjust="spacingAndGlyphs">g5</text>
<line x1="1135.3" y1="1745.0" x2="1135.3" y2="1759.5" stroke="#383838" stroke-width="1.15"/>
<text x="1135.6" y="1791.3" font-size="27" text-anchor="middle" textLength="33.0" lengthAdjust="spacingAndGlyphs">g6</text>
<text x="1014.4" y="1436.5" font-size="27.5" text-anchor="middle" textLength="253.1" lengthAdjust="spacingAndGlyphs">RBFOX1N-dCasRx-C</text>
<line x1="848.2" y1="1505.2" x2="862.8" y2="1505.2" stroke="#222" stroke-width="1.15"/>
<text x="838.0" y="1513.5" font-size="23.5" text-anchor="end" textLength="36.8" lengthAdjust="spacingAndGlyphs">0.4</text>
<line x1="848.2" y1="1592.4" x2="862.8" y2="1592.4" stroke="#222" stroke-width="1.15"/>
<text x="838.0" y="1600.7" font-size="23.5" text-anchor="end" textLength="36.8" lengthAdjust="spacingAndGlyphs">0.2</text>
<line x1="848.2" y1="1679.5" x2="862.8" y2="1679.5" stroke="#222" stroke-width="1.15"/>
<text x="838.0" y="1687.8" font-size="23.5" text-anchor="end" textLength="15.8" lengthAdjust="spacingAndGlyphs">0</text>
<line x1="1209.1" y1="1679.9" x2="1241.5" y2="1679.9" stroke="#dcc3e0" stroke-width="0.8"/>
<rect x="1250.0" y="1631.0" width="32.5" height="48.9" fill="#8a4f94"/>
<rect x="1290.3" y="1543.2" width="32.5" height="136.7" fill="#8a4f94"/>
<rect x="1331.2" y="1546.1" width="32.5" height="133.8" fill="#8a4f94"/>
<rect x="1371.2" y="1605.2" width="32.5" height="74.7" fill="#8a4f94"/>
<rect x="1412.0" y="1557.7" width="32.5" height="122.2" fill="#8a4f94"/>
<rect x="1452.8" y="1579.6" width="32.5" height="100.3" fill="#8a4f94"/>
<circle cx="1212.5" cy="1691.9" r="5.3" fill="#939598"/>
<circle cx="1225.3" cy="1662.6" r="5.3" fill="#939598"/>
<circle cx="1238.1" cy="1685.2" r="5.3" fill="#939598"/>
<circle cx="1253.4" cy="1627.3" r="5.3" fill="#939598"/>
<circle cx="1266.2" cy="1630.6" r="5.3" fill="#939598"/>
<circle cx="1279.0" cy="1636.2" r="5.3" fill="#939598"/>
<circle cx="1293.8" cy="1541.5" r="5.3" fill="#939598"/>
<circle cx="1306.6" cy="1549.3" r="5.3" fill="#939598"/>
<circle cx="1319.4" cy="1539.0" r="5.3" fill="#939598"/>
<circle cx="1334.6" cy="1539.2" r="5.3" fill="#939598"/>
<circle cx="1347.4" cy="1559.6" r="5.3" fill="#939598"/>
<circle cx="1360.2" cy="1539.6" r="5.3" fill="#939598"/>
<circle cx="1374.7" cy="1608.2" r="5.3" fill="#939598"/>
<circle cx="1387.5" cy="1612.3" r="5.3" fill="#939598"/>
<circle cx="1400.3" cy="1595.5" r="5.3" fill="#939598"/>
<circle cx="1415.5" cy="1554.0" r="5.3" fill="#939598"/>
<circle cx="1428.3" cy="1564.8" r="5.3" fill="#939598"/>
<circle cx="1441.1" cy="1554.2" r="5.3" fill="#939598"/>
<circle cx="1456.2" cy="1577.5" r="5.3" fill="#939598"/>
<circle cx="1469.0" cy="1590.4" r="5.3" fill="#939598"/>
<circle cx="1481.8" cy="1570.4" r="5.3" fill="#939598"/>
<line x1="1216.9" y1="1664.4" x2="1233.7" y2="1664.4" stroke="#2a2a2a" stroke-width="1.2"/>
<line x1="1216.9" y1="1695.3" x2="1233.7" y2="1695.3" stroke="#2a2a2a" stroke-width="1.2"/>
<line x1="1225.3" y1="1664.4" x2="1225.3" y2="1695.3" stroke="#2a2a2a" stroke-width="1.2"/>
<line x1="1257.8" y1="1626.5" x2="1274.6" y2="1626.5" stroke="#2a2a2a" stroke-width="1.2"/>
<line x1="1257.8" y1="1635.5" x2="1274.6" y2="1635.5" stroke="#2a2a2a" stroke-width="1.2"/>
<line x1="1266.2" y1="1626.5" x2="1266.2" y2="1635.5" stroke="#2a2a2a" stroke-width="1.2"/>
<line x1="1298.2" y1="1538.3" x2="1315.0" y2="1538.3" stroke="#2a2a2a" stroke-width="1.2"/>
<line x1="1298.2" y1="1548.4" x2="1315.0" y2="1548.4" stroke="#2a2a2a" stroke-width="1.2"/>
<line x1="1306.6" y1="1538.3" x2="1306.6" y2="1548.4" stroke="#2a2a2a" stroke-width="1.2"/>
<line x1="1339.0" y1="1534.6" x2="1355.8" y2="1534.6" stroke="#2a2a2a" stroke-width="1.2"/>
<line x1="1339.0" y1="1557.5" x2="1355.8" y2="1557.5" stroke="#2a2a2a" stroke-width="1.2"/>
<line x1="1347.4" y1="1534.6" x2="1347.4" y2="1557.5" stroke="#2a2a2a" stroke-width="1.2"/>
<line x1="1379.1" y1="1596.2" x2="1395.9" y2="1596.2" stroke="#2a2a2a" stroke-width="1.2"/>
<line x1="1379.1" y1="1614.4" x2="1395.9" y2="1614.4" stroke="#2a2a2a" stroke-width="1.2"/>
<line x1="1387.5" y1="1596.2" x2="1387.5" y2="1614.4" stroke="#2a2a2a" stroke-width="1.2"/>
<line x1="1419.9" y1="1551.6" x2="1436.7" y2="1551.6" stroke="#2a2a2a" stroke-width="1.2"/>
<line x1="1419.9" y1="1563.9" x2="1436.7" y2="1563.9" stroke="#2a2a2a" stroke-width="1.2"/>
<line x1="1428.3" y1="1551.6" x2="1428.3" y2="1563.9" stroke="#2a2a2a" stroke-width="1.2"/>
<line x1="1460.6" y1="1569.5" x2="1477.4" y2="1569.5" stroke="#2a2a2a" stroke-width="1.2"/>
<line x1="1460.6" y1="1589.5" x2="1477.4" y2="1589.5" stroke="#2a2a2a" stroke-width="1.2"/>
<line x1="1469.0" y1="1569.5" x2="1469.0" y2="1589.5" stroke="#2a2a2a" stroke-width="1.2"/>
<rect x="1195.6" y="1461.8" width="303.3" height="283.2" fill="none" stroke="#383838" stroke-width="1.15"/>
<line x1="1225.3" y1="1745.0" x2="1225.3" y2="1759.5" stroke="#383838" stroke-width="1.15"/>
<text x="1225.6" y="1791.3" font-size="27" text-anchor="middle" textLength="33.4" lengthAdjust="spacingAndGlyphs">NT</text>
<line x1="1266.2" y1="1745.0" x2="1266.2" y2="1759.5" stroke="#383838" stroke-width="1.15"/>
<text x="1266.5" y="1791.3" font-size="27" text-anchor="middle" textLength="29.5" lengthAdjust="spacingAndGlyphs">g1</text>
<line x1="1306.6" y1="1745.0" x2="1306.6" y2="1759.5" stroke="#383838" stroke-width="1.15"/>
<text x="1306.9" y="1791.3" font-size="27" text-anchor="middle" textLength="33.0" lengthAdjust="spacingAndGlyphs">g2</text>
<line x1="1347.4" y1="1745.0" x2="1347.4" y2="1759.5" stroke="#383838" stroke-width="1.15"/>
<text x="1347.7" y="1791.3" font-size="27" text-anchor="middle" textLength="33.0" lengthAdjust="spacingAndGlyphs">g3</text>
<line x1="1387.5" y1="1745.0" x2="1387.5" y2="1759.5" stroke="#383838" stroke-width="1.15"/>
<text x="1387.8" y="1791.3" font-size="27" text-anchor="middle" textLength="33.0" lengthAdjust="spacingAndGlyphs">g4</text>
<line x1="1428.3" y1="1745.0" x2="1428.3" y2="1759.5" stroke="#383838" stroke-width="1.15"/>
<text x="1428.6" y="1791.3" font-size="27" text-anchor="middle" textLength="33.0" lengthAdjust="spacingAndGlyphs">g5</text>
<line x1="1469.0" y1="1745.0" x2="1469.0" y2="1759.5" stroke="#383838" stroke-width="1.15"/>
<text x="1469.3" y="1791.3" font-size="27" text-anchor="middle" textLength="33.0" lengthAdjust="spacingAndGlyphs">g6</text>
<text x="1347.7" y="1436.5" font-size="27.5" text-anchor="middle" textLength="106.9" lengthAdjust="spacingAndGlyphs">SRSF8-2</text>
<line x1="1542.3" y1="1679.9" x2="1574.7" y2="1679.9" stroke="#dcc3e0" stroke-width="0.8"/>
<rect x="1582.8" y="1596.6" width="32.5" height="83.3" fill="#8a4f94"/>
<rect x="1623.2" y="1607.8" width="32.5" height="72.1" fill="#8a4f94"/>
<rect x="1664.0" y="1629.5" width="32.5" height="50.4" fill="#8a4f94"/>
<rect x="1704.2" y="1679.9" width="32.5" height="8.7" fill="#8a4f94"/>
<rect x="1745.0" y="1679.9" width="32.5" height="27.7" fill="#8a4f94"/>
<rect x="1785.3" y="1679.9" width="32.5" height="18.0" fill="#8a4f94"/>
<circle cx="1545.7" cy="1687.6" r="5.3" fill="#939598"/>
<circle cx="1558.5" cy="1682.6" r="5.3" fill="#939598"/>
<circle cx="1571.3" cy="1669.7" r="5.3" fill="#939598"/>
<circle cx="1586.2" cy="1604.8" r="5.3" fill="#939598"/>
<circle cx="1599.0" cy="1597.4" r="5.3" fill="#939598"/>
<circle cx="1611.8" cy="1587.6" r="5.3" fill="#939598"/>
<circle cx="1626.6" cy="1598.5" r="5.3" fill="#939598"/>
<circle cx="1639.4" cy="1610.4" r="5.3" fill="#939598"/>
<circle cx="1652.2" cy="1614.4" r="5.3" fill="#939598"/>
<circle cx="1667.4" cy="1620.9" r="5.3" fill="#939598"/>
<circle cx="1680.2" cy="1641.8" r="5.3" fill="#939598"/>
<circle cx="1693.0" cy="1625.9" r="5.3" fill="#939598"/>
<circle cx="1707.7" cy="1690.4" r="5.3" fill="#939598"/>
<circle cx="1720.5" cy="1693.6" r="5.3" fill="#939598"/>
<circle cx="1733.3" cy="1680.9" r="5.3" fill="#939598"/>
<circle cx="1748.5" cy="1694.5" r="5.3" fill="#939598"/>
<circle cx="1761.3" cy="1721.8" r="5.3" fill="#939598"/>
<circle cx="1774.1" cy="1705.0" r="5.3" fill="#939598"/>
<circle cx="1788.8" cy="1705.7" r="5.3" fill="#939598"/>
<circle cx="1801.6" cy="1693.8" r="5.3" fill="#939598"/>
<circle cx="1814.4" cy="1694.7" r="5.3" fill="#939598"/>
<line x1="1550.1" y1="1671.2" x2="1566.9" y2="1671.2" stroke="#2a2a2a" stroke-width="1.2"/>
<line x1="1550.1" y1="1689.1" x2="1566.9" y2="1689.1" stroke="#2a2a2a" stroke-width="1.2"/>
<line x1="1558.5" y1="1671.2" x2="1558.5" y2="1689.1" stroke="#2a2a2a" stroke-width="1.2"/>
<line x1="1590.6" y1="1587.8" x2="1607.4" y2="1587.8" stroke="#2a2a2a" stroke-width="1.2"/>
<line x1="1590.6" y1="1604.8" x2="1607.4" y2="1604.8" stroke="#2a2a2a" stroke-width="1.2"/>
<line x1="1599.0" y1="1587.8" x2="1599.0" y2="1604.8" stroke="#2a2a2a" stroke-width="1.2"/>
<line x1="1631.0" y1="1599.2" x2="1647.8" y2="1599.2" stroke="#2a2a2a" stroke-width="1.2"/>
<line x1="1631.0" y1="1616.2" x2="1647.8" y2="1616.2" stroke="#2a2a2a" stroke-width="1.2"/>
<line x1="1639.4" y1="1599.2" x2="1639.4" y2="1616.2" stroke="#2a2a2a" stroke-width="1.2"/>
<line x1="1671.8" y1="1618.5" x2="1688.6" y2="1618.5" stroke="#2a2a2a" stroke-width="1.2"/>
<line x1="1671.8" y1="1640.3" x2="1688.6" y2="1640.3" stroke="#2a2a2a" stroke-width="1.2"/>
<line x1="1680.2" y1="1618.5" x2="1680.2" y2="1640.3" stroke="#2a2a2a" stroke-width="1.2"/>
<line x1="1712.1" y1="1681.5" x2="1728.9" y2="1681.5" stroke="#2a2a2a" stroke-width="1.2"/>
<line x1="1712.1" y1="1695.3" x2="1728.9" y2="1695.3" stroke="#2a2a2a" stroke-width="1.2"/>
<line x1="1720.5" y1="1681.5" x2="1720.5" y2="1695.3" stroke="#2a2a2a" stroke-width="1.2"/>
<line x1="1752.9" y1="1693.4" x2="1769.7" y2="1693.4" stroke="#2a2a2a" stroke-width="1.2"/>
<line x1="1752.9" y1="1721.3" x2="1769.7" y2="1721.3" stroke="#2a2a2a" stroke-width="1.2"/>
<line x1="1761.3" y1="1693.4" x2="1761.3" y2="1721.3" stroke="#2a2a2a" stroke-width="1.2"/>
<line x1="1793.2" y1="1691.5" x2="1810.0" y2="1691.5" stroke="#2a2a2a" stroke-width="1.2"/>
<line x1="1793.2" y1="1704.4" x2="1810.0" y2="1704.4" stroke="#2a2a2a" stroke-width="1.2"/>
<line x1="1801.6" y1="1691.5" x2="1801.6" y2="1704.4" stroke="#2a2a2a" stroke-width="1.2"/>
<rect x="1528.4" y="1461.8" width="303.6" height="283.2" fill="none" stroke="#383838" stroke-width="1.15"/>
<line x1="1558.5" y1="1745.0" x2="1558.5" y2="1759.5" stroke="#383838" stroke-width="1.15"/>
<text x="1558.8" y="1791.3" font-size="27" text-anchor="middle" textLength="33.4" lengthAdjust="spacingAndGlyphs">NT</text>
<line x1="1599.0" y1="1745.0" x2="1599.0" y2="1759.5" stroke="#383838" stroke-width="1.15"/>
<text x="1599.3" y="1791.3" font-size="27" text-anchor="middle" textLength="29.5" lengthAdjust="spacingAndGlyphs">g1</text>
<line x1="1639.4" y1="1745.0" x2="1639.4" y2="1759.5" stroke="#383838" stroke-width="1.15"/>
<text x="1639.7" y="1791.3" font-size="27" text-anchor="middle" textLength="33.0" lengthAdjust="spacingAndGlyphs">g2</text>
<line x1="1680.2" y1="1745.0" x2="1680.2" y2="1759.5" stroke="#383838" stroke-width="1.15"/>
<text x="1680.5" y="1791.3" font-size="27" text-anchor="middle" textLength="33.0" lengthAdjust="spacingAndGlyphs">g3</text>
<line x1="1720.5" y1="1745.0" x2="1720.5" y2="1759.5" stroke="#383838" stroke-width="1.15"/>
<text x="1720.8" y="1791.3" font-size="27" text-anchor="middle" textLength="33.0" lengthAdjust="spacingAndGlyphs">g4</text>
<line x1="1761.3" y1="1745.0" x2="1761.3" y2="1759.5" stroke="#383838" stroke-width="1.15"/>
<text x="1761.6" y="1791.3" font-size="27" text-anchor="middle" textLength="33.0" lengthAdjust="spacingAndGlyphs">g5</text>
<line x1="1801.6" y1="1745.0" x2="1801.6" y2="1759.5" stroke="#383838" stroke-width="1.15"/>
<text x="1801.9" y="1791.3" font-size="27" text-anchor="middle" textLength="33.0" lengthAdjust="spacingAndGlyphs">g6</text>
<text x="1680.2" y="1436.5" font-size="27.5" text-anchor="middle" textLength="107.6" lengthAdjust="spacingAndGlyphs">SNRPB-1</text>
<line x1="1875.2" y1="1679.9" x2="1907.6" y2="1679.9" stroke="#dcc3e0" stroke-width="0.8"/>
<rect x="1915.7" y="1679.9" width="32.5" height="1.1" fill="#8a4f94"/>
<rect x="1956.0" y="1645.6" width="32.5" height="34.3" fill="#8a4f94"/>
<rect x="1996.5" y="1672.3" width="32.5" height="7.6" fill="#8a4f94"/>
<rect x="2037.2" y="1656.2" width="32.5" height="23.7" fill="#8a4f94"/>
<rect x="2077.8" y="1599.0" width="32.5" height="80.9" fill="#8a4f94"/>
<rect x="2118.1" y="1657.9" width="32.5" height="22.0" fill="#8a4f94"/>
<circle cx="1878.6" cy="1681.1" r="5.3" fill="#939598"/>
<circle cx="1891.4" cy="1682.8" r="5.3" fill="#939598"/>
<circle cx="1904.2" cy="1677.0" r="5.3" fill="#939598"/>
<circle cx="1919.1" cy="1688.4" r="5.3" fill="#939598"/>
<circle cx="1931.9" cy="1689.1" r="5.3" fill="#939598"/>
<circle cx="1944.8" cy="1666.9" r="5.3" fill="#939598"/>
<circle cx="1959.5" cy="1654.2" r="5.3" fill="#939598"/>
<circle cx="1972.3" cy="1650.6" r="5.3" fill="#939598"/>
<circle cx="1985.1" cy="1632.5" r="5.3" fill="#939598"/>
<circle cx="2000.0" cy="1656.2" r="5.3" fill="#939598"/>
<circle cx="2012.8" cy="1694.5" r="5.3" fill="#939598"/>
<circle cx="2025.6" cy="1666.1" r="5.3" fill="#939598"/>
<circle cx="2040.6" cy="1622.0" r="5.3" fill="#939598"/>
<circle cx="2053.4" cy="1676.8" r="5.3" fill="#939598"/>
<circle cx="2066.2" cy="1669.7" r="5.3" fill="#939598"/>
<circle cx="2081.2" cy="1595.5" r="5.3" fill="#939598"/>
<circle cx="2094.0" cy="1608.9" r="5.3" fill="#939598"/>
<circle cx="2106.8" cy="1592.7" r="5.3" fill="#939598"/>
<circle cx="2121.5" cy="1664.3" r="5.3" fill="#939598"/>
<circle cx="2134.3" cy="1663.9" r="5.3" fill="#939598"/>
<circle cx="2147.2" cy="1644.6" r="5.3" fill="#939598"/>
<line x1="1883.0" y1="1677.0" x2="1899.8" y2="1677.0" stroke="#2a2a2a" stroke-width="1.2"/>
<line x1="1883.0" y1="1682.9" x2="1899.8" y2="1682.9" stroke="#2a2a2a" stroke-width="1.2"/>
<line x1="1891.4" y1="1677.0" x2="1891.4" y2="1682.9" stroke="#2a2a2a" stroke-width="1.2"/>
<line x1="1923.5" y1="1668.4" x2="1940.3" y2="1668.4" stroke="#2a2a2a" stroke-width="1.2"/>
<line x1="1923.5" y1="1693.8" x2="1940.3" y2="1693.8" stroke="#2a2a2a" stroke-width="1.2"/>
<line x1="1931.9" y1="1668.4" x2="1931.9" y2="1693.8" stroke="#2a2a2a" stroke-width="1.2"/>
<line x1="1963.9" y1="1634.0" x2="1980.7" y2="1634.0" stroke="#2a2a2a" stroke-width="1.2"/>
<line x1="1963.9" y1="1657.3" x2="1980.7" y2="1657.3" stroke="#2a2a2a" stroke-width="1.2"/>
<line x1="1972.3" y1="1634.0" x2="1972.3" y2="1657.3" stroke="#2a2a2a" stroke-width="1.2"/>
<line x1="2004.4" y1="1652.1" x2="2021.2" y2="1652.1" stroke="#2a2a2a" stroke-width="1.2"/>
<line x1="2004.4" y1="1692.1" x2="2021.2" y2="1692.1" stroke="#2a2a2a" stroke-width="1.2"/>
<line x1="2012.8" y1="1652.1" x2="2012.8" y2="1692.1" stroke="#2a2a2a" stroke-width="1.2"/>
<line x1="2045.0" y1="1626.5" x2="2061.8" y2="1626.5" stroke="#2a2a2a" stroke-width="1.2"/>
<line x1="2045.0" y1="1685.9" x2="2061.8" y2="1685.9" stroke="#2a2a2a" stroke-width="1.2"/>
<line x1="2053.4" y1="1626.5" x2="2053.4" y2="1685.9" stroke="#2a2a2a" stroke-width="1.2"/>
<line x1="2085.6" y1="1590.3" x2="2102.4" y2="1590.3" stroke="#2a2a2a" stroke-width="1.2"/>
<line x1="2085.6" y1="1607.4" x2="2102.4" y2="1607.4" stroke="#2a2a2a" stroke-width="1.2"/>
<line x1="2094.0" y1="1590.3" x2="2094.0" y2="1607.4" stroke="#2a2a2a" stroke-width="1.2"/>
<line x1="2125.9" y1="1646.3" x2="2142.7" y2="1646.3" stroke="#2a2a2a" stroke-width="1.2"/>
<line x1="2125.9" y1="1668.9" x2="2142.7" y2="1668.9" stroke="#2a2a2a" stroke-width="1.2"/>
<line x1="2134.3" y1="1646.3" x2="2134.3" y2="1668.9" stroke="#2a2a2a" stroke-width="1.2"/>
<rect x="1861.2" y="1461.8" width="303.3" height="283.2" fill="none" stroke="#383838" stroke-width="1.15"/>
<line x1="1891.4" y1="1745.0" x2="1891.4" y2="1759.5" stroke="#383838" stroke-width="1.15"/>
<text x="1891.7" y="1791.3" font-size="27" text-anchor="middle" textLength="33.4" lengthAdjust="spacingAndGlyphs">NT</text>
<line x1="1931.9" y1="1745.0" x2="1931.9" y2="1759.5" stroke="#383838" stroke-width="1.15"/>
<text x="1932.2" y="1791.3" font-size="27" text-anchor="middle" textLength="29.5" lengthAdjust="spacingAndGlyphs">g1</text>
<line x1="1972.3" y1="1745.0" x2="1972.3" y2="1759.5" stroke="#383838" stroke-width="1.15"/>
<text x="1972.6" y="1791.3" font-size="27" text-anchor="middle" textLength="33.0" lengthAdjust="spacingAndGlyphs">g2</text>
<line x1="2012.8" y1="1745.0" x2="2012.8" y2="1759.5" stroke="#383838" stroke-width="1.15"/>
<text x="2013.1" y="1791.3" font-size="27" text-anchor="middle" textLength="33.0" lengthAdjust="spacingAndGlyphs">g3</text>
<line x1="2053.4" y1="1745.0" x2="2053.4" y2="1759.5" stroke="#383838" stroke-width="1.15"/>
<text x="2053.7" y="1791.3" font-size="27" text-anchor="middle" textLength="33.0" lengthAdjust="spacingAndGlyphs">g4</text>
<line x1="2094.0" y1="1745.0" x2="2094.0" y2="1759.5" stroke="#383838" stroke-width="1.15"/>
<text x="2094.3" y="1791.3" font-size="27" text-anchor="middle" textLength="33.0" lengthAdjust="spacingAndGlyphs">g5</text>
<line x1="2134.3" y1="1745.0" x2="2134.3" y2="1759.5" stroke="#383838" stroke-width="1.15"/>
<text x="2134.6" y="1791.3" font-size="27" text-anchor="middle" textLength="33.0" lengthAdjust="spacingAndGlyphs">g6</text>
<text x="2013.1" y="1436.5" font-size="27.5" text-anchor="middle" textLength="107.3" lengthAdjust="spacingAndGlyphs">U2AF2-2</text>
<text x="20.1" y="1876.9" font-size="36.5" textLength="25.6" lengthAdjust="spacingAndGlyphs" font-weight="bold" fill="#1a1a1a" stroke="#1a1a1a" stroke-width="1.1" stroke-linejoin="round">h</text>
<text x="53.8" y="1919.8" font-size="27" textLength="149.4" lengthAdjust="spacingAndGlyphs">Truncations</text>
<path d="M 178.4 1990.7 C 180.9 1988.7 184.0 1985.8 188.0 1984.2 C 192.0 1982.6 197.6 1982.0 202.4 1981.1 C 207.2 1980.2 212.8 1979.8 216.8 1978.7 C 220.8 1977.6 223.2 1976.6 226.4 1974.4 C 229.6 1972.2 232.8 1969.0 236.0 1965.8 C 239.2 1962.6 241.9 1958.2 245.6 1955.2 C 249.2 1952.2 253.7 1949.2 258.0 1947.5 C 262.3 1945.8 267.0 1945.1 271.5 1945.1 C 275.9 1945.1 280.7 1945.8 284.9 1947.5 C 289.1 1949.2 293.0 1952.0 296.4 1955.2 C 299.8 1958.4 302.8 1962.6 305.0 1966.7 C 307.3 1970.9 308.6 1975.7 309.8 1980.2 C 311.0 1984.6 311.9 1989.1 312.2 1993.6 C 312.6 1998.1 312.5 2002.9 311.8 2007.0 C 311.0 2011.2 309.7 2014.9 307.9 2018.5 C 306.2 2022.2 304.1 2026.0 301.2 2029.1 C 298.3 2032.1 294.6 2034.8 290.7 2036.8 C 286.7 2038.8 282.3 2040.0 277.2 2041.1 C 272.1 2042.2 267.6 2043.0 259.9 2043.5 C 252.3 2043.9 240.8 2043.7 231.2 2043.7 C 221.6 2043.7 209.1 2043.8 202.4 2043.5 C 195.7 2043.2 194.5 2043.0 190.9 2042.0 C 187.2 2041.1 183.3 2039.6 180.3 2037.7 C 177.3 2035.9 174.5 2033.9 172.6 2031.0 C 170.7 2028.1 169.4 2024.6 168.8 2020.5 C 168.2 2016.3 168.2 2010.1 168.8 2006.1 C 169.4 2002.1 171.0 1999.0 172.6 1996.5 C 174.2 1993.9 175.8 1992.8 178.4 1990.7 Z" fill="#f7f9f9" stroke="#c2cae5" stroke-width="7.4" stroke-linejoin="round"/>
<g>
<path d="M 109.5 1929.6 C 112.2 1930.0 116.5 1931.0 118.8 1933.1 C 121.2 1935.3 122.5 1940.5 123.5 1942.5 C 124.5 1944.5 123.6 1944.8 124.8 1945.1 C 126.0 1945.4 128.9 1943.9 130.8 1944.2 C 132.6 1944.5 134.9 1945.7 135.9 1946.8 C 136.9 1947.9 135.8 1949.4 136.7 1951.1 C 137.7 1952.8 140.7 1955.5 141.9 1957.0 C 143.0 1958.6 141.9 1959.3 143.6 1960.4 C 145.3 1961.6 149.5 1962.3 152.1 1963.8 C 154.7 1965.4 157.4 1967.8 158.9 1969.8 C 160.5 1971.8 161.3 1973.7 161.5 1975.8 C 161.6 1977.9 160.3 1980.6 159.8 1982.6 C 159.2 1984.6 158.1 1986.6 158.1 1987.7 C 158.1 1988.9 158.2 1989.4 159.8 1989.4 C 161.3 1989.4 165.0 1987.6 167.4 1987.7 C 169.9 1987.9 172.7 1988.9 174.3 1990.3 C 175.8 1991.7 176.8 1994.1 176.8 1996.3 C 176.8 1998.4 174.7 2001.1 174.3 2003.1 C 173.8 2005.1 173.6 2006.8 174.3 2008.2 C 175.0 2009.6 178.1 2010.0 178.5 2011.6 C 179.0 2013.2 177.5 2015.4 176.8 2017.6 C 176.1 2019.7 175.8 2022.6 174.3 2024.4 C 172.7 2026.3 169.6 2027.7 167.4 2028.7 C 165.3 2029.7 162.0 2029.1 161.5 2030.4 C 160.9 2031.7 163.9 2034.6 164.0 2036.3 C 164.2 2038.1 163.5 2039.5 162.3 2040.6 C 161.2 2041.7 159.3 2042.9 157.2 2043.2 C 155.1 2043.5 151.5 2042.0 149.5 2042.3 C 147.5 2042.6 147.1 2044.6 145.3 2044.9 C 143.4 2045.2 140.3 2045.0 138.5 2044.0 C 136.6 2043.0 135.3 2040.6 134.2 2038.9 C 133.0 2037.2 133.3 2034.6 131.6 2033.8 C 129.9 2032.9 127.4 2033.2 124.0 2033.8 C 120.5 2034.4 115.4 2036.6 111.2 2037.2 C 106.9 2037.8 101.9 2036.9 98.4 2037.2 C 94.8 2037.5 92.4 2039.0 89.8 2038.9 C 87.3 2038.8 84.9 2037.8 83.0 2036.3 C 81.2 2034.9 79.7 2032.2 78.7 2030.4 C 77.8 2028.5 78.7 2026.0 77.0 2025.3 C 75.3 2024.5 70.6 2026.7 68.5 2026.1 C 66.4 2025.5 65.1 2023.3 64.3 2021.8 C 63.4 2020.4 64.5 2018.7 63.4 2017.6 C 62.3 2016.4 58.8 2016.3 57.4 2015.0 C 56.0 2013.7 54.9 2011.6 54.9 2009.9 C 54.9 2008.2 55.9 2006.1 57.4 2004.8 C 59.0 2003.5 64.1 2002.7 64.3 2002.2 C 64.4 2001.7 60.7 2002.1 58.3 2001.8 C 55.9 2001.5 51.7 2001.6 49.8 2000.5 C 47.8 1999.5 46.5 1997.0 46.3 1995.4 C 46.2 1993.8 47.5 1992.6 48.9 1991.1 C 50.3 1989.7 53.4 1988.6 54.9 1986.9 C 56.3 1985.2 56.6 1983.3 57.4 1980.9 C 58.3 1978.5 59.0 1974.4 60.0 1972.4 C 61.0 1970.4 61.3 1970.1 63.4 1969.0 C 65.5 1967.8 69.7 1966.4 72.8 1965.6 C 75.9 1964.7 79.9 1964.3 82.2 1963.8 C 84.4 1963.4 86.0 1964.0 86.4 1963.0 C 86.9 1962.0 85.1 1959.7 84.7 1957.9 C 84.4 1956.0 83.7 1953.9 84.3 1951.9 C 84.9 1949.9 86.5 1947.5 88.1 1945.9 C 89.8 1944.4 92.5 1944.4 94.1 1942.5 C 95.7 1940.7 96.1 1936.8 97.5 1934.9 C 98.9 1932.9 100.6 1931.5 102.6 1930.6 C 104.6 1929.7 106.8 1929.1 109.5 1929.6 Z" fill="#cc8720" stroke="#9d4f17" stroke-width="1.4" stroke-linejoin="round"/>
<path d="M 104.3 2004.8 C 107.7 2002.5 113.6 2000.2 119.7 1998.8 C 125.8 1997.4 134.8 1997.7 141.0 1996.3 C 147.3 1994.8 152.5 1990.6 157.2 1990.3 C 161.9 1990.0 166.3 1991.9 169.2 1994.6 C 172.0 1997.3 173.3 2002.7 174.3 2006.5 C 175.3 2010.3 176.0 2014.3 175.1 2017.6 C 174.3 2020.9 171.6 2023.8 169.2 2026.1 C 166.7 2028.4 162.2 2029.1 160.6 2031.2 C 159.1 2033.4 162.3 2037.1 159.8 2038.9 C 157.2 2040.8 149.3 2042.5 145.3 2042.3 C 141.3 2042.2 138.5 2039.8 135.9 2038.1 C 133.3 2036.3 133.3 2032.6 129.9 2032.1 C 126.5 2031.5 121.1 2034.1 115.4 2034.6 C 109.7 2035.2 100.8 2036.2 95.8 2035.5 C 90.8 2034.8 86.7 2032.9 85.6 2030.4 C 84.4 2027.8 86.7 2023.1 89.0 2020.1 C 91.3 2017.2 96.7 2015.0 99.2 2012.5 C 101.8 2009.9 100.9 2007.1 104.3 2004.8 Z" fill="#c67c20"/>
<path d="M 102.6 1948.5 C 103.6 1949.1 106.3 1951.5 108.6 1951.9 C 110.9 1952.3 113.9 1952.2 116.3 1951.1 C 118.7 1949.9 122.0 1946.1 123.1 1945.1" fill="none" stroke="#bb771f" stroke-width="1.1" stroke-linecap="round" opacity="0.75"/>
<path d="M 116.3 1951.1 C 116.8 1951.8 117.7 1953.9 119.7 1955.3 C 121.7 1956.7 125.4 1959.3 128.2 1959.6 C 131.1 1959.9 135.3 1957.5 136.7 1957.0" fill="none" stroke="#bb771f" stroke-width="1.1" stroke-linecap="round" opacity="0.75"/>
<path d="M 100.9 1974.9 C 101.8 1974.2 103.6 1972.0 106.0 1970.7 C 108.5 1969.4 113.0 1968.7 115.4 1967.3 C 117.8 1965.8 119.7 1963.0 120.5 1962.1" fill="none" stroke="#bb771f" stroke-width="1.1" stroke-linecap="round" opacity="0.75"/>
<path d="M 86.4 1963.0 C 87.7 1963.4 91.8 1964.3 94.1 1965.6 C 96.4 1966.8 98.8 1969.0 100.1 1970.7 C 101.4 1972.4 101.9 1973.5 101.8 1975.8 C 101.6 1978.1 99.8 1981.6 99.2 1984.3 C 98.7 1987.0 98.5 1990.7 98.4 1992.0" fill="none" stroke="#bb771f" stroke-width="1.1" stroke-linecap="round" opacity="0.75"/>
<path d="M 100.1 1960.4 C 100.4 1961.6 100.9 1965.6 101.8 1967.3 C 102.6 1969.0 104.6 1970.1 105.2 1970.7" fill="none" stroke="#bb771f" stroke-width="1.1" stroke-linecap="round" opacity="0.75"/>
<path d="M 60.0 1972.4 C 61.4 1972.7 65.4 1974.1 68.5 1974.1 C 71.6 1974.1 75.9 1972.4 78.7 1972.4 C 81.6 1972.4 84.4 1973.8 85.6 1974.1" fill="none" stroke="#bb771f" stroke-width="1.1" stroke-linecap="round" opacity="0.75"/>
<path d="M 66.8 1986.0 C 68.2 1985.7 72.2 1985.5 75.3 1984.3 C 78.5 1983.2 83.9 1980.1 85.6 1979.2" fill="none" stroke="#bb771f" stroke-width="1.1" stroke-linecap="round" opacity="0.75"/>
<path d="M 121.4 1980.9 C 122.4 1981.3 125.2 1983.6 127.4 1983.5 C 129.5 1983.3 133.0 1980.6 134.2 1980.1" fill="none" stroke="#bb771f" stroke-width="1.1" stroke-linecap="round" opacity="0.75"/>
<path d="M 98.4 1992.0 C 99.1 1993.1 100.5 1997.3 102.6 1998.8 C 104.8 2000.4 108.3 2001.2 111.2 2001.4 C 114.0 2001.5 118.3 2000.0 119.7 1999.7" fill="none" stroke="#bb771f" stroke-width="1.1" stroke-linecap="round" opacity="0.75"/>
<path d="M 57.4 2004.8 C 59.0 2004.9 63.5 2005.2 66.8 2005.6 C 70.1 2006.1 75.3 2007.1 77.0 2007.3" fill="none" stroke="#bb771f" stroke-width="1.1" stroke-linecap="round" opacity="0.75"/>
<path d="M 89.0 2009.1 C 89.8 2009.2 92.4 2010.2 94.1 2009.9 C 95.8 2009.6 98.4 2007.8 99.2 2007.3" fill="none" stroke="#bb771f" stroke-width="1.1" stroke-linecap="round" opacity="0.75"/>
<ellipse cx="147.8" cy="1992.0" rx="6.8" ry="4.7" fill="#cc8822" transform="rotate(0 147.8 1992.0)"/>
<ellipse cx="132.5" cy="2002.2" rx="4.7" ry="4.3" fill="#cc8822" transform="rotate(-20 132.5 2002.2)"/>
<ellipse cx="126.5" cy="2016.7" rx="19.6" ry="6.4" fill="#cc8822" transform="rotate(8 126.5 2016.7)"/>
<ellipse cx="95.0" cy="2026.1" rx="12.8" ry="7.2" fill="#cc8822" transform="rotate(-12 95.0 2026.1)"/>
<ellipse cx="141.0" cy="2034.6" rx="6.4" ry="5.5" fill="#cc8822" transform="rotate(0 141.0 2034.6)"/>
<ellipse cx="155.5" cy="2034.6" rx="6.4" ry="3.8" fill="#cc8822" transform="rotate(0 155.5 2034.6)"/>
<ellipse cx="165.3" cy="1998.8" rx="8.1" ry="7.2" fill="#cc8822" transform="rotate(0 165.3 1998.8)"/>
<ellipse cx="116.3" cy="2005.6" rx="3.4" ry="2.1" fill="#cc8822" transform="rotate(0 116.3 2005.6)"/>
</g>
<rect x="181.6" y="2025.2" width="87.5" height="9.6" fill="#3f6bb0"/>
<rect x="189.7" y="1999.5" width="5.5" height="26.4" fill="#3f6bb0"/>
<rect x="211.6" y="1999.5" width="5.7" height="26.4" fill="#3f6bb0"/>
<rect x="233.4" y="1999.5" width="5.5" height="26.4" fill="#3f6bb0"/>
<rect x="255.0" y="1999.5" width="5.5" height="26.4" fill="#3f6bb0"/>
<rect x="274.3" y="2025.2" width="21.9" height="9.6" fill="#0d0d0d"/>
<rect x="282.5" y="1999.5" width="5.5" height="26.4" fill="#0d0d0d"/>
<text x="332.8" y="2013.6" font-size="27" textLength="108.3" lengthAdjust="spacingAndGlyphs">dCas13d</text>
<line x1="0.0" y1="2191.1" x2="7.3" y2="2191.1" stroke="#141414" stroke-width="3.6"/>
<line x1="13.2" y1="2191.1" x2="20.5" y2="2191.1" stroke="#141414" stroke-width="3.6"/>
<line x1="26.4" y1="2191.1" x2="33.7" y2="2191.1" stroke="#141414" stroke-width="3.6"/>
<line x1="585.6" y1="2191.1" x2="593.2" y2="2191.1" stroke="#141414" stroke-width="3.6"/>
<line x1="598.8" y1="2191.1" x2="604.0" y2="2191.1" stroke="#141414" stroke-width="3.6"/>
<line x1="128.0" y1="2191.1" x2="240.0" y2="2191.1" stroke="#141414" stroke-width="3.6"/>
<line x1="327.0" y1="2191.1" x2="486.0" y2="2191.1" stroke="#141414" stroke-width="3.6"/>
<rect x="42.1" y="2178.6" width="84.3" height="28.2" fill="#ffffff" stroke="#141414" stroke-width="3.6"/>
<rect x="241.4" y="2178.6" width="84.6" height="28.2" fill="#ffffff" stroke="#141414" stroke-width="3.6"/>
<rect x="487.6" y="2178.6" width="84.6" height="28.2" fill="#ffffff" stroke="#141414" stroke-width="3.6"/>
<line x1="206.9" y1="2172.2" x2="206.9" y2="2213.2" stroke="#141414" stroke-width="3.6"/>
<line x1="217.8" y1="2172.2" x2="217.8" y2="2213.2" stroke="#141414" stroke-width="3.6"/>
<line x1="228.0" y1="2172.2" x2="228.0" y2="2213.2" stroke="#141414" stroke-width="3.6"/>
<line x1="340.4" y1="2170.2" x2="340.4" y2="2210.9" stroke="#141414" stroke-width="3.6"/>
<line x1="351.0" y1="2170.2" x2="351.0" y2="2210.9" stroke="#141414" stroke-width="3.6"/>
<line x1="361.2" y1="2170.2" x2="361.2" y2="2210.9" stroke="#141414" stroke-width="3.6"/>
<text x="217.2" y="2154.8" font-size="27" text-anchor="middle" textLength="34.7" lengthAdjust="spacingAndGlyphs">UP</text>
<text x="353.1" y="2154.8" font-size="27" text-anchor="middle" textLength="37.4" lengthAdjust="spacingAndGlyphs">DN</text>
<text x="83.8" y="2201.7" font-size="26" text-anchor="middle" textLength="49.3" lengthAdjust="spacingAndGlyphs">EX6</text>
<text x="282.9" y="2201.7" font-size="26" text-anchor="middle" textLength="45.6" lengthAdjust="spacingAndGlyphs">EX7</text>
<text x="531.2" y="2201.7" font-size="26" text-anchor="middle" textLength="49.9" lengthAdjust="spacingAndGlyphs">EX8</text>
<text x="297.2" y="2252.9" font-size="27" text-anchor="middle" textLength="275.7" lengthAdjust="spacingAndGlyphs">Endogenous HNRNPD</text>
<defs><filter id="b1" filterUnits="userSpaceOnUse" x="850" y="1860" width="480" height="400"><feGaussianBlur stdDeviation="2.4 2.2"/></filter><filter id="b2" filterUnits="userSpaceOnUse" x="850" y="1860" width="480" height="400"><feGaussianBlur stdDeviation="3.2 3.2"/></filter><filter id="b3" filterUnits="userSpaceOnUse" x="850" y="1860" width="480" height="400"><feGaussianBlur stdDeviation="4 6"/></filter><linearGradient id="gl" x1="0" y1="0" x2="1" y2="1"><stop offset="0" stop-color="#e3e3e4"/><stop offset="1" stop-color="#ececec"/></linearGradient><linearGradient id="gm" x1="0" y1="1" x2="1" y2="0"><stop offset="0" stop-color="#e9e9ea"/><stop offset="1" stop-color="#efefef"/></linearGradient></defs>
<rect x="867.1" y="1872.8" width="118.0" height="180.9" fill="url(#gl)"/>
<rect x="992.5" y="1872.8" width="313.0" height="180.9" fill="url(#gm)"/>
<path d="M 890.2 1892.5 Q 923.6 1894.0 957.0 1892.5" fill="none" stroke="#2a2a2a" stroke-width="5.2" stroke-linecap="butt" opacity="0.75" filter="url(#b1)"/>
<path d="M 890.2 1930.4 Q 923.6 1931.9 957.0 1930.4" fill="none" stroke="#3a3a3a" stroke-width="6.2" stroke-linecap="butt" opacity="0.7" filter="url(#b1)"/>
<rect x="890.7" y="2013.5" width="67.8" height="13.0" rx="1.5" fill="#6a6a6a" opacity="0.38" filter="url(#b2)"/>
<rect x="1017.0" y="1890.8" width="61.3" height="24" fill="#ffffff" opacity="0.18" filter="url(#b3)"/>
<path d="M 1015.5 1916.8 Q 1047.7 1918.0 1079.8 1916.8" fill="none" stroke="#303030" stroke-width="6.6" stroke-linecap="butt" opacity="0.66" filter="url(#b1)"/>
<rect x="1015.0" y="1911.8" width="65.3" height="10.0" rx="1.5" fill="#555" opacity="0.28" filter="url(#b2)"/>
<path d="M 1015.5 2000.5 Q 1047.7 2000.9 1079.8 2000.5" fill="none" stroke="#404040" stroke-width="6.8" stroke-linecap="butt" opacity="0.55" filter="url(#b1)"/>
<rect x="1015.0" y="1995.5" width="65.3" height="10.0" rx="1.5" fill="#666" opacity="0.22" filter="url(#b2)"/>
<rect x="1118.1" y="1890.8" width="62.5" height="24" fill="#ffffff" opacity="0.18" filter="url(#b3)"/>
<path d="M 1116.6 1916.8 Q 1149.3 1916.5 1182.1 1916.8" fill="none" stroke="#303030" stroke-width="6.6" stroke-linecap="butt" opacity="0.76" filter="url(#b1)"/>
<rect x="1116.1" y="1911.8" width="66.5" height="10.0" rx="1.5" fill="#555" opacity="0.28" filter="url(#b2)"/>
<path d="M 1116.6 2000.5 Q 1149.3 2000.9 1182.1 2000.5" fill="none" stroke="#404040" stroke-width="6.8" stroke-linecap="butt" opacity="0.55" filter="url(#b1)"/>
<rect x="1116.1" y="1995.5" width="66.5" height="10.0" rx="1.5" fill="#666" opacity="0.22" filter="url(#b2)"/>
<rect x="1220.5" y="1890.8" width="62.5" height="24" fill="#ffffff" opacity="0.18" filter="url(#b3)"/>
<path d="M 1219.0 1916.8 Q 1251.8 1915.8 1284.5 1916.8" fill="none" stroke="#303030" stroke-width="6.6" stroke-linecap="butt" opacity="0.5" filter="url(#b1)"/>
<rect x="1218.5" y="1911.8" width="66.5" height="10.0" rx="1.5" fill="#555" opacity="0.28" filter="url(#b2)"/>
<path d="M 1219.0 2000.5 Q 1251.8 2000.9 1284.5 2000.5" fill="none" stroke="#404040" stroke-width="6.8" stroke-linecap="butt" opacity="0.42" filter="url(#b1)"/>
<rect x="1218.5" y="1995.5" width="66.5" height="10.0" rx="1.5" fill="#666" opacity="0.22" filter="url(#b2)"/>
<rect x="870.5" y="2062.3" width="114.6" height="181.4" fill="url(#gl)"/>
<rect x="991.2" y="2062.3" width="314.3" height="181.4" fill="url(#gm)"/>
<path d="M 888.9 2076.9 Q 923.5 2078.4 958.2 2076.9" fill="none" stroke="#2a2a2a" stroke-width="5.2" stroke-linecap="butt" opacity="0.9" filter="url(#b1)"/>
<path d="M 888.9 2116.5 Q 923.5 2118.0 958.2 2116.5" fill="none" stroke="#3a3a3a" stroke-width="6.2" stroke-linecap="butt" opacity="0.75" filter="url(#b1)"/>
<rect x="889.4" y="2202.1" width="70.3" height="13.0" rx="1.5" fill="#6a6a6a" opacity="0.4" filter="url(#b2)"/>
<rect x="1019.6" y="2086.2" width="61.8" height="24" fill="#ffffff" opacity="0.18" filter="url(#b3)"/>
<path d="M 1018.1 2112.2 Q 1050.5 2113.0 1082.9 2112.2" fill="none" stroke="#303030" stroke-width="6.6" stroke-linecap="butt" opacity="0.36" filter="url(#b1)"/>
<rect x="1017.6" y="2107.2" width="65.8" height="10.0" rx="1.5" fill="#555" opacity="0.28" filter="url(#b2)"/>
<path d="M 1018.1 2198.4 Q 1050.5 2198.8 1082.9 2198.4" fill="none" stroke="#404040" stroke-width="6.8" stroke-linecap="butt" opacity="0.55" filter="url(#b1)"/>
<rect x="1017.6" y="2193.4" width="65.8" height="10.0" rx="1.5" fill="#666" opacity="0.22" filter="url(#b2)"/>
<rect x="1123.2" y="2086.2" width="62.6" height="24" fill="#ffffff" opacity="0.18" filter="url(#b3)"/>
<path d="M 1121.7 2112.2 Q 1154.5 2113.7 1187.3 2112.2" fill="none" stroke="#303030" stroke-width="6.6" stroke-linecap="butt" opacity="0.62" filter="url(#b1)"/>
<rect x="1121.2" y="2107.2" width="66.6" height="10.0" rx="1.5" fill="#555" opacity="0.28" filter="url(#b2)"/>
<path d="M 1121.7 2198.4 Q 1154.5 2198.8 1187.3 2198.4" fill="none" stroke="#404040" stroke-width="6.8" stroke-linecap="butt" opacity="0.5" filter="url(#b1)"/>
<rect x="1121.2" y="2193.4" width="66.6" height="10.0" rx="1.5" fill="#666" opacity="0.22" filter="url(#b2)"/>
<rect x="1226.9" y="2086.2" width="61.2" height="24" fill="#ffffff" opacity="0.18" filter="url(#b3)"/>
<path d="M 1225.4 2112.2 Q 1257.5 2113.7 1289.6 2112.2" fill="none" stroke="#303030" stroke-width="6.6" stroke-linecap="butt" opacity="0.72" filter="url(#b1)"/>
<rect x="1224.9" y="2107.2" width="65.2" height="10.0" rx="1.5" fill="#555" opacity="0.28" filter="url(#b2)"/>
<path d="M 1225.4 2198.4 Q 1257.5 2198.8 1289.6 2198.4" fill="none" stroke="#404040" stroke-width="6.8" stroke-linecap="butt" opacity="0.52" filter="url(#b1)"/>
<rect x="1224.9" y="2193.4" width="65.2" height="10.0" rx="1.5" fill="#666" opacity="0.22" filter="url(#b2)"/>
<line x1="867.1" y1="1872.8" x2="985.3" y2="1872.8" stroke="#4a4a4a" stroke-width="1.0"/>
<line x1="985.0" y1="1872.5" x2="985.0" y2="2053.7" stroke="#6a6a6a" stroke-width="1.0"/>
<line x1="992.5" y1="1872.8" x2="1305.5" y2="1872.8" stroke="#6a6a6a" stroke-width="0.9"/>
<line x1="870.5" y1="2062.3" x2="985.3" y2="2062.3" stroke="#5a5a5a" stroke-width="0.9"/>
<line x1="985.0" y1="2062.0" x2="985.0" y2="2243.7" stroke="#6a6a6a" stroke-width="1.0"/>
<line x1="990.8" y1="2062.4" x2="1305.5" y2="2062.4" stroke="#1f1f1f" stroke-width="1.6"/>
<line x1="991.3" y1="2062.0" x2="991.3" y2="2243.7" stroke="#2a2a2a" stroke-width="1.1"/>
<line x1="1305.5" y1="1915.6" x2="1320.3" y2="1915.6" stroke="#333" stroke-width="1.2"/>
<line x1="1305.5" y1="2001.2" x2="1320.3" y2="2001.2" stroke="#333" stroke-width="1.2"/>
<line x1="1305.5" y1="2112.2" x2="1320.3" y2="2112.2" stroke="#333" stroke-width="1.2"/>
<line x1="1305.5" y1="2197.9" x2="1320.3" y2="2197.9" stroke="#333" stroke-width="1.2"/>
<text x="856.6" y="1900.7" font-size="27" text-anchor="end" textLength="94.9" lengthAdjust="spacingAndGlyphs">300 bp</text>
<text x="856.6" y="1940.1" font-size="27" text-anchor="end" textLength="94.9" lengthAdjust="spacingAndGlyphs">200 bp</text>
<text x="856.6" y="2030.6" font-size="27" text-anchor="end" textLength="71.5" lengthAdjust="spacingAndGlyphs">75 bp</text>
<text x="856.6" y="2090.2" font-size="27" text-anchor="end" textLength="94.9" lengthAdjust="spacingAndGlyphs">300 bp</text>
<text x="856.6" y="2129.1" font-size="27" text-anchor="end" textLength="94.9" lengthAdjust="spacingAndGlyphs">200 bp</text>
<text x="856.6" y="2219.6" font-size="27" text-anchor="end" textLength="71.5" lengthAdjust="spacingAndGlyphs">75 bp</text>
<text x="617.7" y="1958.8" font-size="27" textLength="108.9" lengthAdjust="spacingAndGlyphs">RBFOX1-</text>
<text x="617.7" y="1988.9" font-size="27" textLength="125.3" lengthAdjust="spacingAndGlyphs">dCasRx-C</text>
<text x="636.4" y="2165.2" font-size="27" textLength="106.6" lengthAdjust="spacingAndGlyphs">SRSF8-2</text>
<text x="1388.5" y="1908.6" font-size="27" text-anchor="middle" textLength="115.5" lengthAdjust="spacingAndGlyphs">Inclusion</text>
<text x="1388.0" y="1939.1" font-size="27" text-anchor="middle" textLength="107.1" lengthAdjust="spacingAndGlyphs">(247 bp)</text>
<text x="1387.0" y="1993.0" font-size="27" text-anchor="middle" textLength="112.2" lengthAdjust="spacingAndGlyphs">Skipping</text>
<text x="1387.0" y="2024.5" font-size="27" text-anchor="middle" textLength="107.6" lengthAdjust="spacingAndGlyphs">(100 bp)</text>
<text x="1388.5" y="2105.6" font-size="27" text-anchor="middle" textLength="115.5" lengthAdjust="spacingAndGlyphs">Inclusion</text>
<text x="1388.0" y="2136.1" font-size="27" text-anchor="middle" textLength="107.1" lengthAdjust="spacingAndGlyphs">(247 bp)</text>
<text x="1387.0" y="2191.0" font-size="27" text-anchor="middle" textLength="112.2" lengthAdjust="spacingAndGlyphs">Skipping</text>
<text x="1387.0" y="2222.0" font-size="27" text-anchor="middle" textLength="107.6" lengthAdjust="spacingAndGlyphs">(100 bp)</text>
<text x="1051.2" y="2276.9" font-size="27" text-anchor="middle" textLength="34.9" lengthAdjust="spacingAndGlyphs">NT</text>
<text x="1155.4" y="2276.9" font-size="27" text-anchor="middle" textLength="38.6" lengthAdjust="spacingAndGlyphs">DN</text>
<text x="1256.7" y="2276.9" font-size="27" text-anchor="middle" textLength="34.8" lengthAdjust="spacingAndGlyphs">UP</text>
<text x="1502.7" y="2092.0" font-size="27" text-anchor="middle" textLength="261.3" lengthAdjust="spacingAndGlyphs" transform="rotate(-90 1502.7 2092.0)">Inc/Exc relative ratio</text>
<rect x="1595.0" y="2193.2" width="73.2" height="40.9" fill="#a8a9ad"/>
<rect x="1686.4" y="2190.6" width="73.2" height="43.5" fill="#a8a9ad"/>
<rect x="1777.8" y="2217.4" width="73.2" height="16.7" fill="#a8a9ad"/>
<circle cx="1618.6" cy="2184.7" r="5.1" fill="#a9bddd"/>
<circle cx="1631.6" cy="2192.1" r="5.1" fill="#a9bddd"/>
<circle cx="1644.6" cy="2204.0" r="5.1" fill="#a9bddd"/>
<circle cx="1710.0" cy="2176.5" r="5.1" fill="#a9bddd"/>
<circle cx="1723.0" cy="2194.0" r="5.1" fill="#a9bddd"/>
<circle cx="1736.0" cy="2202.5" r="5.1" fill="#a9bddd"/>
<circle cx="1801.4" cy="2206.2" r="5.1" fill="#a9bddd"/>
<circle cx="1814.4" cy="2221.8" r="5.1" fill="#a9bddd"/>
<circle cx="1827.4" cy="2223.3" r="5.1" fill="#a9bddd"/>
<line x1="1623.1" y1="2185.4" x2="1640.1" y2="2185.4" stroke="#2a2a2a" stroke-width="1.1"/>
<line x1="1623.1" y1="2201.4" x2="1640.1" y2="2201.4" stroke="#2a2a2a" stroke-width="1.1"/>
<line x1="1631.6" y1="2185.4" x2="1631.6" y2="2201.4" stroke="#2a2a2a" stroke-width="1.1"/>
<line x1="1714.5" y1="2180.2" x2="1731.5" y2="2180.2" stroke="#2a2a2a" stroke-width="1.1"/>
<line x1="1714.5" y1="2201.0" x2="1731.5" y2="2201.0" stroke="#2a2a2a" stroke-width="1.1"/>
<line x1="1723.0" y1="2180.2" x2="1723.0" y2="2201.0" stroke="#2a2a2a" stroke-width="1.1"/>
<line x1="1805.9" y1="2209.6" x2="1822.9" y2="2209.6" stroke="#2a2a2a" stroke-width="1.1"/>
<line x1="1805.9" y1="2225.2" x2="1822.9" y2="2225.2" stroke="#2a2a2a" stroke-width="1.1"/>
<line x1="1814.4" y1="2209.6" x2="1814.4" y2="2225.2" stroke="#2a2a2a" stroke-width="1.1"/>
<rect x="1582.6" y="1950.2" width="281.2" height="283.9" fill="none" stroke="#2a2a2a" stroke-width="1.15"/>
<line x1="1631.6" y1="2234.1" x2="1631.6" y2="2248.6" stroke="#333" stroke-width="1.15"/>
<text x="1631.9" y="2280.4" font-size="27" text-anchor="middle" textLength="34.0" lengthAdjust="spacingAndGlyphs">NT</text>
<line x1="1723.0" y1="2234.1" x2="1723.0" y2="2248.6" stroke="#333" stroke-width="1.15"/>
<text x="1723.3" y="2280.4" font-size="27" text-anchor="middle" textLength="38.0" lengthAdjust="spacingAndGlyphs">DN</text>
<line x1="1814.4" y1="2234.1" x2="1814.4" y2="2248.6" stroke="#333" stroke-width="1.15"/>
<text x="1814.7" y="2280.4" font-size="27" text-anchor="middle" textLength="35.0" lengthAdjust="spacingAndGlyphs">UP</text>
<text x="1723.2" y="1937.3" font-size="27.5" text-anchor="middle" textLength="253.7" lengthAdjust="spacingAndGlyphs">RBFOX1N-dCasRx-C</text>
<line x1="1568.4" y1="1950.2" x2="1582.6" y2="1950.2" stroke="#222" stroke-width="1.15"/>
<text x="1557.4" y="1958.8" font-size="23" text-anchor="end" textLength="30.7" lengthAdjust="spacingAndGlyphs">1.3</text>
<line x1="1568.4" y1="2031.2" x2="1582.6" y2="2031.2" stroke="#222" stroke-width="1.15"/>
<text x="1557.4" y="2039.8" font-size="23" text-anchor="end" textLength="30.7" lengthAdjust="spacingAndGlyphs">1.2</text>
<line x1="1568.4" y1="2112.2" x2="1582.6" y2="2112.2" stroke="#222" stroke-width="1.15"/>
<text x="1557.4" y="2120.8" font-size="23" text-anchor="end" textLength="30.7" lengthAdjust="spacingAndGlyphs">1.1</text>
<line x1="1568.4" y1="2193.2" x2="1582.6" y2="2193.2" stroke="#222" stroke-width="1.15"/>
<text x="1557.4" y="2201.8" font-size="23" text-anchor="end" textLength="30.7" lengthAdjust="spacingAndGlyphs">1.0</text>
<rect x="1897.8" y="2193.2" width="73.2" height="40.9" fill="#a8a9ad"/>
<rect x="1989.2" y="2137.5" width="73.2" height="96.6" fill="#a8a9ad"/>
<rect x="2080.6" y="2047.6" width="73.2" height="186.5" fill="#a8a9ad"/>
<circle cx="1921.4" cy="2180.2" r="5.1" fill="#a9bddd"/>
<circle cx="1934.4" cy="2202.1" r="5.1" fill="#a9bddd"/>
<circle cx="1947.4" cy="2197.7" r="5.1" fill="#a9bddd"/>
<circle cx="2012.8" cy="2169.4" r="5.1" fill="#a9bddd"/>
<circle cx="2025.8" cy="2148.3" r="5.1" fill="#a9bddd"/>
<circle cx="2038.8" cy="2094.8" r="5.1" fill="#a9bddd"/>
<circle cx="2104.2" cy="2029.4" r="5.1" fill="#a9bddd"/>
<circle cx="2117.2" cy="2063.9" r="5.1" fill="#a9bddd"/>
<circle cx="2130.2" cy="2049.0" r="5.1" fill="#a9bddd"/>
<line x1="1925.9" y1="2183.9" x2="1942.9" y2="2183.9" stroke="#2a2a2a" stroke-width="1.1"/>
<line x1="1925.9" y1="2202.1" x2="1942.9" y2="2202.1" stroke="#2a2a2a" stroke-width="1.1"/>
<line x1="1934.4" y1="2183.9" x2="1934.4" y2="2202.1" stroke="#2a2a2a" stroke-width="1.1"/>
<line x1="2017.3" y1="2105.9" x2="2034.3" y2="2105.9" stroke="#2a2a2a" stroke-width="1.1"/>
<line x1="2017.3" y1="2169.1" x2="2034.3" y2="2169.1" stroke="#2a2a2a" stroke-width="1.1"/>
<line x1="2025.8" y1="2105.9" x2="2025.8" y2="2169.1" stroke="#2a2a2a" stroke-width="1.1"/>
<line x1="2108.7" y1="2033.4" x2="2125.7" y2="2033.4" stroke="#2a2a2a" stroke-width="1.1"/>
<line x1="2108.7" y1="2061.3" x2="2125.7" y2="2061.3" stroke="#2a2a2a" stroke-width="1.1"/>
<line x1="2117.2" y1="2033.4" x2="2117.2" y2="2061.3" stroke="#2a2a2a" stroke-width="1.1"/>
<rect x="1885.4" y="1950.2" width="281.0" height="283.9" fill="none" stroke="#2a2a2a" stroke-width="1.15"/>
<line x1="1934.4" y1="2234.1" x2="1934.4" y2="2248.6" stroke="#333" stroke-width="1.15"/>
<text x="1934.7" y="2280.4" font-size="27" text-anchor="middle" textLength="34.0" lengthAdjust="spacingAndGlyphs">NT</text>
<line x1="2025.8" y1="2234.1" x2="2025.8" y2="2248.6" stroke="#333" stroke-width="1.15"/>
<text x="2026.1" y="2280.4" font-size="27" text-anchor="middle" textLength="38.0" lengthAdjust="spacingAndGlyphs">DN</text>
<line x1="2117.2" y1="2234.1" x2="2117.2" y2="2248.6" stroke="#333" stroke-width="1.15"/>
<text x="2117.5" y="2280.4" font-size="27" text-anchor="middle" textLength="35.0" lengthAdjust="spacingAndGlyphs">UP</text>
<text x="2025.8" y="1937.3" font-size="27.5" text-anchor="middle" textLength="106.9" lengthAdjust="spacingAndGlyphs">SRSF8-2</text>
</svg>
</body>
</html>
